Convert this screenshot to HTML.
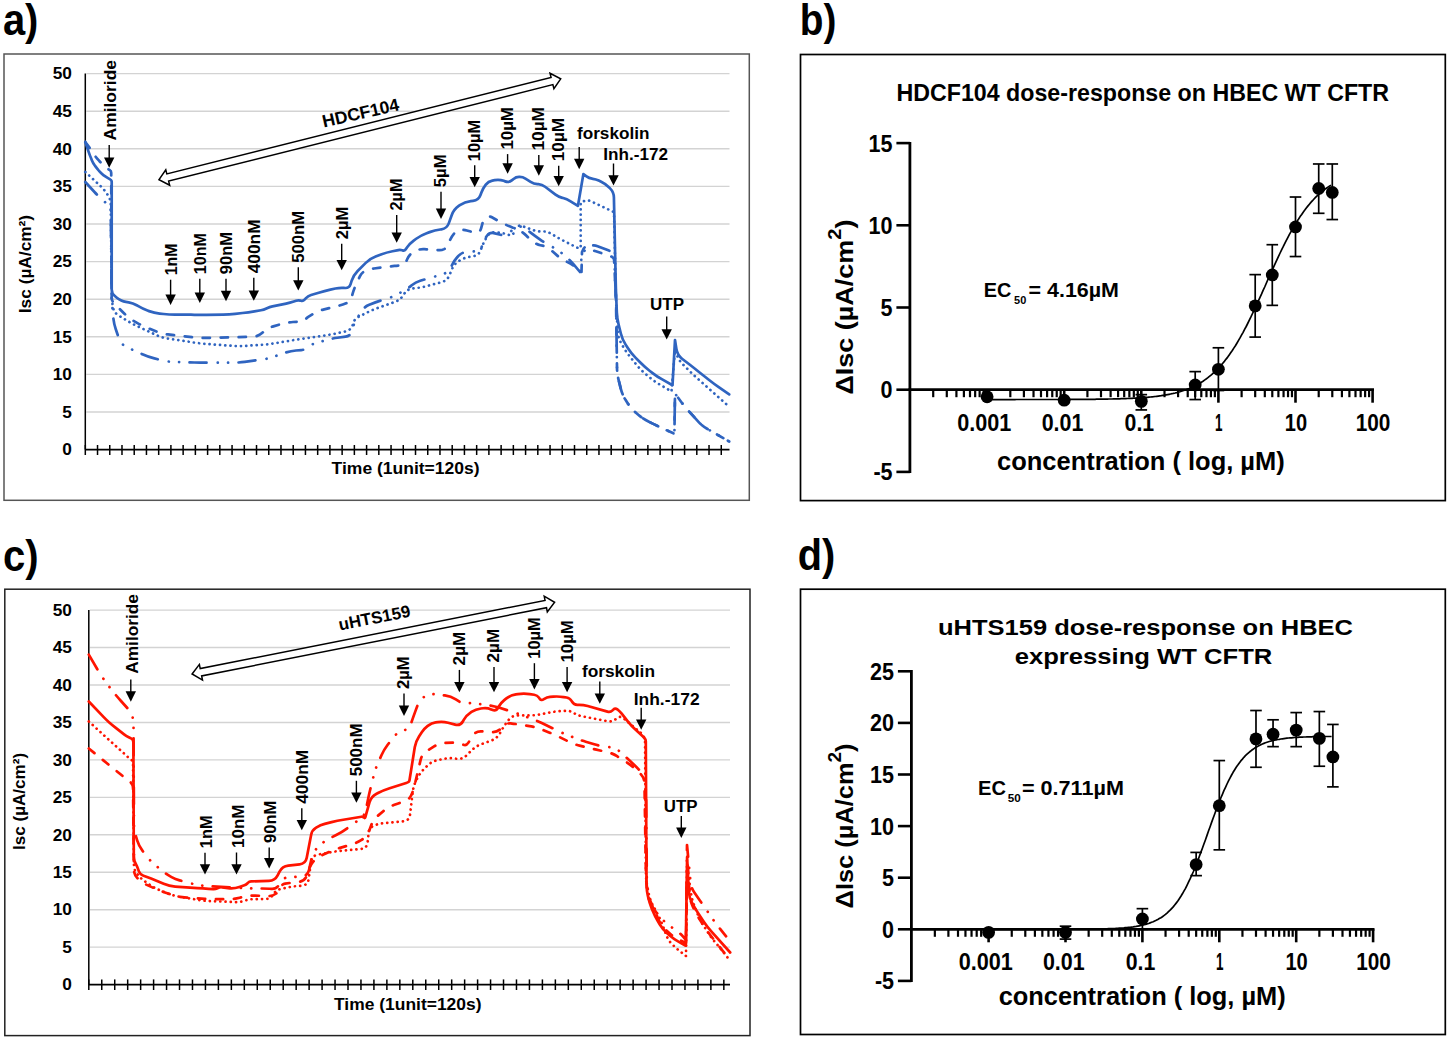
<!DOCTYPE html>
<html><head><meta charset="utf-8"><style>
html,body{margin:0;padding:0;background:#fff;}
svg{display:block;}
text{font-family:"Liberation Sans",sans-serif;font-weight:bold;}
</style></head><body>
<svg width="1450" height="1040" viewBox="0 0 1450 1040">
<rect x="0" y="0" width="1450" height="1040" fill="#fff"/>
<text x="2.90" y="35.00" font-size="43.50" fill="#000" textLength="35.48" lengthAdjust="spacingAndGlyphs">a)</text>
<text x="799.80" y="35.00" font-size="43.50" fill="#000" textLength="36.61" lengthAdjust="spacingAndGlyphs">b)</text>
<text x="2.90" y="571.00" font-size="43.50" fill="#000" textLength="35.58" lengthAdjust="spacingAndGlyphs">c)</text>
<text x="797.80" y="570.20" font-size="43.50" fill="#000" textLength="37.51" lengthAdjust="spacingAndGlyphs">d)</text>
<rect x="4.00" y="54.00" width="745.30" height="446.30" fill="none" stroke="#555" stroke-width="1.50"/>
<line x1="86.30" y1="412.00" x2="729.50" y2="412.00" stroke="#d3d3d3" stroke-width="1.40"/>
<line x1="86.30" y1="374.40" x2="729.50" y2="374.40" stroke="#d3d3d3" stroke-width="1.40"/>
<line x1="86.30" y1="336.80" x2="729.50" y2="336.80" stroke="#d3d3d3" stroke-width="1.40"/>
<line x1="86.30" y1="299.20" x2="729.50" y2="299.20" stroke="#d3d3d3" stroke-width="1.40"/>
<line x1="86.30" y1="261.60" x2="729.50" y2="261.60" stroke="#d3d3d3" stroke-width="1.40"/>
<line x1="86.30" y1="224.00" x2="729.50" y2="224.00" stroke="#d3d3d3" stroke-width="1.40"/>
<line x1="86.30" y1="186.40" x2="729.50" y2="186.40" stroke="#d3d3d3" stroke-width="1.40"/>
<line x1="86.30" y1="148.80" x2="729.50" y2="148.80" stroke="#d3d3d3" stroke-width="1.40"/>
<line x1="86.30" y1="111.20" x2="729.50" y2="111.20" stroke="#d3d3d3" stroke-width="1.40"/>
<line x1="86.30" y1="73.60" x2="729.50" y2="73.60" stroke="#d3d3d3" stroke-width="1.40"/>
<line x1="85.30" y1="73.60" x2="85.30" y2="449.60" stroke="#000" stroke-width="1.50"/>
<line x1="85.30" y1="449.60" x2="729.50" y2="449.60" stroke="#000" stroke-width="1.80"/>
<line x1="85.30" y1="445.00" x2="85.30" y2="455.00" stroke="#000" stroke-width="1.50"/>
<line x1="97.53" y1="445.00" x2="97.53" y2="455.00" stroke="#000" stroke-width="1.50"/>
<line x1="109.76" y1="445.00" x2="109.76" y2="455.00" stroke="#000" stroke-width="1.50"/>
<line x1="121.99" y1="445.00" x2="121.99" y2="455.00" stroke="#000" stroke-width="1.50"/>
<line x1="134.22" y1="445.00" x2="134.22" y2="455.00" stroke="#000" stroke-width="1.50"/>
<line x1="146.45" y1="445.00" x2="146.45" y2="455.00" stroke="#000" stroke-width="1.50"/>
<line x1="158.68" y1="445.00" x2="158.68" y2="455.00" stroke="#000" stroke-width="1.50"/>
<line x1="170.91" y1="445.00" x2="170.91" y2="455.00" stroke="#000" stroke-width="1.50"/>
<line x1="183.14" y1="445.00" x2="183.14" y2="455.00" stroke="#000" stroke-width="1.50"/>
<line x1="195.37" y1="445.00" x2="195.37" y2="455.00" stroke="#000" stroke-width="1.50"/>
<line x1="207.60" y1="445.00" x2="207.60" y2="455.00" stroke="#000" stroke-width="1.50"/>
<line x1="219.83" y1="445.00" x2="219.83" y2="455.00" stroke="#000" stroke-width="1.50"/>
<line x1="232.06" y1="445.00" x2="232.06" y2="455.00" stroke="#000" stroke-width="1.50"/>
<line x1="244.29" y1="445.00" x2="244.29" y2="455.00" stroke="#000" stroke-width="1.50"/>
<line x1="256.52" y1="445.00" x2="256.52" y2="455.00" stroke="#000" stroke-width="1.50"/>
<line x1="268.75" y1="445.00" x2="268.75" y2="455.00" stroke="#000" stroke-width="1.50"/>
<line x1="280.98" y1="445.00" x2="280.98" y2="455.00" stroke="#000" stroke-width="1.50"/>
<line x1="293.21" y1="445.00" x2="293.21" y2="455.00" stroke="#000" stroke-width="1.50"/>
<line x1="305.44" y1="445.00" x2="305.44" y2="455.00" stroke="#000" stroke-width="1.50"/>
<line x1="317.67" y1="445.00" x2="317.67" y2="455.00" stroke="#000" stroke-width="1.50"/>
<line x1="329.90" y1="445.00" x2="329.90" y2="455.00" stroke="#000" stroke-width="1.50"/>
<line x1="342.13" y1="445.00" x2="342.13" y2="455.00" stroke="#000" stroke-width="1.50"/>
<line x1="354.36" y1="445.00" x2="354.36" y2="455.00" stroke="#000" stroke-width="1.50"/>
<line x1="366.59" y1="445.00" x2="366.59" y2="455.00" stroke="#000" stroke-width="1.50"/>
<line x1="378.82" y1="445.00" x2="378.82" y2="455.00" stroke="#000" stroke-width="1.50"/>
<line x1="391.05" y1="445.00" x2="391.05" y2="455.00" stroke="#000" stroke-width="1.50"/>
<line x1="403.28" y1="445.00" x2="403.28" y2="455.00" stroke="#000" stroke-width="1.50"/>
<line x1="415.51" y1="445.00" x2="415.51" y2="455.00" stroke="#000" stroke-width="1.50"/>
<line x1="427.74" y1="445.00" x2="427.74" y2="455.00" stroke="#000" stroke-width="1.50"/>
<line x1="439.97" y1="445.00" x2="439.97" y2="455.00" stroke="#000" stroke-width="1.50"/>
<line x1="452.20" y1="445.00" x2="452.20" y2="455.00" stroke="#000" stroke-width="1.50"/>
<line x1="464.43" y1="445.00" x2="464.43" y2="455.00" stroke="#000" stroke-width="1.50"/>
<line x1="476.66" y1="445.00" x2="476.66" y2="455.00" stroke="#000" stroke-width="1.50"/>
<line x1="488.89" y1="445.00" x2="488.89" y2="455.00" stroke="#000" stroke-width="1.50"/>
<line x1="501.12" y1="445.00" x2="501.12" y2="455.00" stroke="#000" stroke-width="1.50"/>
<line x1="513.35" y1="445.00" x2="513.35" y2="455.00" stroke="#000" stroke-width="1.50"/>
<line x1="525.58" y1="445.00" x2="525.58" y2="455.00" stroke="#000" stroke-width="1.50"/>
<line x1="537.81" y1="445.00" x2="537.81" y2="455.00" stroke="#000" stroke-width="1.50"/>
<line x1="550.04" y1="445.00" x2="550.04" y2="455.00" stroke="#000" stroke-width="1.50"/>
<line x1="562.27" y1="445.00" x2="562.27" y2="455.00" stroke="#000" stroke-width="1.50"/>
<line x1="574.50" y1="445.00" x2="574.50" y2="455.00" stroke="#000" stroke-width="1.50"/>
<line x1="586.73" y1="445.00" x2="586.73" y2="455.00" stroke="#000" stroke-width="1.50"/>
<line x1="598.96" y1="445.00" x2="598.96" y2="455.00" stroke="#000" stroke-width="1.50"/>
<line x1="611.19" y1="445.00" x2="611.19" y2="455.00" stroke="#000" stroke-width="1.50"/>
<line x1="623.42" y1="445.00" x2="623.42" y2="455.00" stroke="#000" stroke-width="1.50"/>
<line x1="635.65" y1="445.00" x2="635.65" y2="455.00" stroke="#000" stroke-width="1.50"/>
<line x1="647.88" y1="445.00" x2="647.88" y2="455.00" stroke="#000" stroke-width="1.50"/>
<line x1="660.11" y1="445.00" x2="660.11" y2="455.00" stroke="#000" stroke-width="1.50"/>
<line x1="672.34" y1="445.00" x2="672.34" y2="455.00" stroke="#000" stroke-width="1.50"/>
<line x1="684.57" y1="445.00" x2="684.57" y2="455.00" stroke="#000" stroke-width="1.50"/>
<line x1="696.80" y1="445.00" x2="696.80" y2="455.00" stroke="#000" stroke-width="1.50"/>
<line x1="709.03" y1="445.00" x2="709.03" y2="455.00" stroke="#000" stroke-width="1.50"/>
<line x1="721.26" y1="445.00" x2="721.26" y2="455.00" stroke="#000" stroke-width="1.50"/>
<text x="62.39" y="455.30" font-size="16.00" fill="#000" textLength="9.61" lengthAdjust="spacingAndGlyphs">0</text>
<text x="62.39" y="417.70" font-size="16.00" fill="#000" textLength="9.61" lengthAdjust="spacingAndGlyphs">5</text>
<text x="52.78" y="380.10" font-size="16.00" fill="#000" textLength="19.22" lengthAdjust="spacingAndGlyphs">10</text>
<text x="52.78" y="342.50" font-size="16.00" fill="#000" textLength="19.22" lengthAdjust="spacingAndGlyphs">15</text>
<text x="52.78" y="304.90" font-size="16.00" fill="#000" textLength="19.22" lengthAdjust="spacingAndGlyphs">20</text>
<text x="52.78" y="267.30" font-size="16.00" fill="#000" textLength="19.22" lengthAdjust="spacingAndGlyphs">25</text>
<text x="52.78" y="229.70" font-size="16.00" fill="#000" textLength="19.22" lengthAdjust="spacingAndGlyphs">30</text>
<text x="52.78" y="192.10" font-size="16.00" fill="#000" textLength="19.22" lengthAdjust="spacingAndGlyphs">35</text>
<text x="52.78" y="154.50" font-size="16.00" fill="#000" textLength="19.22" lengthAdjust="spacingAndGlyphs">40</text>
<text x="52.78" y="116.90" font-size="16.00" fill="#000" textLength="19.22" lengthAdjust="spacingAndGlyphs">45</text>
<text x="52.78" y="79.30" font-size="16.00" fill="#000" textLength="19.22" lengthAdjust="spacingAndGlyphs">50</text>
<text transform="translate(31.00,313.20) rotate(-90)" x="-0.00" y="0" font-size="16.00" textLength="98.32" lengthAdjust="spacingAndGlyphs">Isc (µA/cm²)</text>
<text x="331.60" y="473.70" font-size="16.00" fill="#000" textLength="148.01" lengthAdjust="spacingAndGlyphs">Time (1unit=120s)</text>
<path d="M159.00,179.70 L165.78,169.75 L166.82,173.87 L551.06,77.36 L550.02,73.23 L560.70,78.80 L553.92,88.75 L552.88,84.63 L168.64,181.14 L169.68,185.27 Z" fill="#fff" stroke="#000" stroke-width="1.50" stroke-linejoin="miter"/>
<text transform="translate(362.0,118.8) rotate(-12.8)" x="0" y="0" font-size="17.6" text-anchor="middle">HDCF104</text>
<text transform="translate(116.11,140.40) rotate(-90)" x="-0.00" y="0" font-size="16.50" textLength="80.40" lengthAdjust="spacingAndGlyphs">Amiloride</text>
<line x1="109.20" y1="145.00" x2="109.20" y2="158.40" stroke="#000" stroke-width="1.40"/>
<path d="M104.00,157.40 L114.40,157.40 L109.20,167.80 Z" fill="#000"/>
<text transform="translate(176.51,275.20) rotate(-90)" x="-0.00" y="0" font-size="16.50" textLength="31.70" lengthAdjust="spacingAndGlyphs">1nM</text>
<line x1="170.60" y1="279.70" x2="170.60" y2="295.60" stroke="#000" stroke-width="1.40"/>
<path d="M165.40,294.60 L175.80,294.60 L170.60,305.00 Z" fill="#000"/>
<text transform="translate(205.71,274.20) rotate(-90)" x="-0.00" y="0" font-size="16.50" textLength="41.28" lengthAdjust="spacingAndGlyphs">10nM</text>
<line x1="199.80" y1="278.70" x2="199.80" y2="293.60" stroke="#000" stroke-width="1.40"/>
<path d="M194.60,292.60 L205.00,292.60 L199.80,303.00 Z" fill="#000"/>
<text transform="translate(231.91,274.20) rotate(-90)" x="-0.00" y="0" font-size="16.50" textLength="42.18" lengthAdjust="spacingAndGlyphs">90nM</text>
<line x1="226.00" y1="278.70" x2="226.00" y2="291.80" stroke="#000" stroke-width="1.40"/>
<path d="M220.80,290.80 L231.20,290.80 L226.00,301.20 Z" fill="#000"/>
<text transform="translate(259.71,273.30) rotate(-90)" x="-0.00" y="0" font-size="16.50" textLength="53.90" lengthAdjust="spacingAndGlyphs">400nM</text>
<line x1="253.80" y1="277.80" x2="253.80" y2="291.40" stroke="#000" stroke-width="1.40"/>
<path d="M248.60,290.40 L259.00,290.40 L253.80,300.80 Z" fill="#000"/>
<text transform="translate(304.21,262.70) rotate(-90)" x="-0.00" y="0" font-size="16.50" textLength="51.90" lengthAdjust="spacingAndGlyphs">500nM</text>
<line x1="298.30" y1="267.20" x2="298.30" y2="281.20" stroke="#000" stroke-width="1.40"/>
<path d="M293.10,280.20 L303.50,280.20 L298.30,290.60 Z" fill="#000"/>
<text transform="translate(347.97,239.30) rotate(-90)" x="-0.00" y="0" font-size="16.50" textLength="32.48" lengthAdjust="spacingAndGlyphs">2µM</text>
<line x1="341.70" y1="243.80" x2="341.70" y2="260.90" stroke="#000" stroke-width="1.40"/>
<path d="M336.50,259.90 L346.90,259.90 L341.70,270.30 Z" fill="#000"/>
<text transform="translate(402.17,210.40) rotate(-90)" x="-0.00" y="0" font-size="16.50" textLength="31.78" lengthAdjust="spacingAndGlyphs">2µM</text>
<line x1="396.70" y1="214.90" x2="396.70" y2="233.40" stroke="#000" stroke-width="1.40"/>
<path d="M391.50,232.40 L401.90,232.40 L396.70,242.80 Z" fill="#000"/>
<text transform="translate(446.47,187.30) rotate(-90)" x="-0.00" y="0" font-size="16.50" textLength="32.88" lengthAdjust="spacingAndGlyphs">5µM</text>
<line x1="441.00" y1="191.80" x2="441.00" y2="209.60" stroke="#000" stroke-width="1.40"/>
<path d="M435.80,208.60 L446.20,208.60 L441.00,219.00 Z" fill="#000"/>
<text transform="translate(480.17,161.20) rotate(-90)" x="-0.00" y="0" font-size="16.50" textLength="41.50" lengthAdjust="spacingAndGlyphs">10µM</text>
<line x1="474.70" y1="165.20" x2="474.70" y2="177.90" stroke="#000" stroke-width="1.40"/>
<path d="M469.50,176.90 L479.90,176.90 L474.70,187.30 Z" fill="#000"/>
<text transform="translate(513.07,149.60) rotate(-90)" x="-0.00" y="0" font-size="16.50" textLength="42.50" lengthAdjust="spacingAndGlyphs">10µM</text>
<line x1="507.60" y1="154.10" x2="507.60" y2="164.30" stroke="#000" stroke-width="1.40"/>
<path d="M502.40,163.30 L512.80,163.30 L507.60,173.70 Z" fill="#000"/>
<text transform="translate(544.27,150.60) rotate(-90)" x="-0.00" y="0" font-size="16.50" textLength="43.60" lengthAdjust="spacingAndGlyphs">10µM</text>
<line x1="538.80" y1="155.10" x2="538.80" y2="166.30" stroke="#000" stroke-width="1.40"/>
<path d="M533.60,165.30 L544.00,165.30 L538.80,175.70 Z" fill="#000"/>
<text transform="translate(564.17,161.20) rotate(-90)" x="-0.00" y="0" font-size="16.50" textLength="43.40" lengthAdjust="spacingAndGlyphs">10µM</text>
<line x1="558.70" y1="165.70" x2="558.70" y2="176.90" stroke="#000" stroke-width="1.40"/>
<path d="M553.50,175.90 L563.90,175.90 L558.70,186.30 Z" fill="#000"/>
<text x="577.00" y="138.50" font-size="16.00" fill="#000" textLength="72.41" lengthAdjust="spacingAndGlyphs">forskolin</text>
<line x1="579.20" y1="147.00" x2="579.20" y2="159.80" stroke="#000" stroke-width="1.40"/>
<path d="M574.00,158.80 L584.40,158.80 L579.20,169.20 Z" fill="#000"/>
<text x="603.30" y="160.00" font-size="16.00" fill="#000" textLength="64.71" lengthAdjust="spacingAndGlyphs">Inh.-172</text>
<line x1="613.50" y1="163.50" x2="613.50" y2="176.20" stroke="#000" stroke-width="1.40"/>
<path d="M608.30,175.20 L618.70,175.20 L613.50,185.60 Z" fill="#000"/>
<text x="650.00" y="310.40" font-size="16.00" fill="#000" textLength="34.00" lengthAdjust="spacingAndGlyphs">UTP</text>
<line x1="666.70" y1="316.50" x2="666.70" y2="330.20" stroke="#000" stroke-width="1.40"/>
<path d="M661.50,329.20 L671.90,329.20 L666.70,339.60 Z" fill="#000"/>
<path d="M85.30,182.00 L94.72,192.24 Q98.00,195.80 101.60,199.04 L103.94,201.14 Q106.00,203.00 108.11,204.80 L108.59,205.20 Q110.70,207.00 110.73,209.78 L111.64,294.00 Q111.70,300.00 112.24,305.98 L113.26,317.32 Q113.80,323.30 115.71,328.99 L119.19,339.30 Q120.60,343.50 124.47,345.66 L125.33,346.14 Q129.20,348.30 133.24,350.12 L143.03,354.53 Q148.50,357.00 154.33,358.43 L161.87,360.27 Q167.70,361.70 173.70,361.88 L194.40,362.52 Q200.40,362.70 206.40,362.70 L232.80,362.70 Q238.80,362.70 244.75,361.90 L261.75,359.60 Q267.70,358.80 273.36,356.82 L284.34,352.98 Q290.00,351.00 295.98,350.49 L301.22,350.04 Q305.20,349.70 308.31,347.18 L309.00,346.62 Q312.10,344.10 315.95,343.00 L325.63,340.24 Q331.40,338.60 337.34,337.77 L345.61,336.61 Q350.70,335.90 351.91,330.90 L352.22,329.66 Q353.40,324.80 355.92,320.48 L356.74,319.07 Q359.00,315.20 361.48,311.46 L362.02,310.63 Q364.50,306.90 368.61,305.11 L370.55,304.26 Q375.50,302.10 380.68,300.56 L386.25,298.91 Q392.00,297.20 397.28,294.35 L402.93,291.31 Q407.20,289.00 410.94,285.89 L411.76,285.21 Q415.50,282.10 420.17,280.77 L429.03,278.24 Q434.80,276.60 440.54,274.85 L443.03,274.09 Q448.60,272.40 451.08,267.13 L452.13,264.88 Q454.10,260.70 457.21,257.28 L458.41,255.95 Q461.00,253.10 464.74,252.16 L465.56,251.94 Q469.30,251.00 473.14,251.36 L475.19,251.55 Q480.00,252.00 481.53,247.41 L482.75,243.76 Q484.10,239.70 486.62,236.23 L487.18,235.47 Q489.70,232.00 493.85,233.08 L499.42,234.54 Q505.00,236.00 509.50,232.40 L512.44,230.05 Q515.00,228.00 518.15,227.10 L518.85,226.90 Q522.00,226.00 524.60,228.00 L530.65,232.65 Q535.00,236.00 539.50,239.15 L540.50,239.85 Q545.00,243.00 549.84,245.60 L552.72,247.16 Q558.00,250.00 562.61,253.84 L565.39,256.16 Q570.00,260.00 573.84,264.61 L580.00,272.00 L582.00,253.00 L587.54,248.01 Q592.00,244.00 597.59,246.17 L608.27,250.33 Q610.00,251.00 611.80,251.45 L612.20,251.55 Q614.00,252.00 614.08,253.85 L615.75,294.01 Q616.00,300.00 616.09,306.00 L617.01,367.90 Q617.10,373.90 618.56,379.72 L620.84,388.88 Q622.30,394.70 625.50,399.78 L627.80,403.42 Q631.00,408.50 635.55,412.41 L638.55,414.99 Q643.10,418.90 648.47,421.57 L651.63,423.13 Q657.00,425.80 662.45,428.31 L674.40,433.80 L675.00,393.50 L681.43,402.18 Q685.00,407.00 689.04,411.44 L698.26,421.56 Q702.30,426.00 707.50,429.00 L729.20,441.50" fill="none" stroke="#2f64c0" stroke-width="2.70" stroke-linejoin="round" stroke-linecap="round" stroke-dasharray="17,11.2,0.1,10.2,0.1,10.4"/>
<path d="M85.30,172.00 L97.81,183.52 Q100.50,186.00 102.97,188.70 L103.53,189.30 Q106.00,192.00 107.86,195.16 L108.59,196.40 Q110.70,200.00 110.74,204.18 L111.64,293.00 Q111.70,299.00 112.61,304.93 L112.89,306.77 Q113.80,312.70 118.95,315.78 L127.85,321.12 Q133.00,324.20 138.44,326.73 L156.56,335.17 Q162.00,337.70 167.93,338.60 L194.47,342.60 Q200.40,343.50 206.38,343.94 L232.82,345.86 Q238.80,346.30 244.79,345.91 L261.71,344.79 Q267.70,344.40 273.62,343.42 L284.08,341.68 Q290.00,340.70 295.93,339.80 L297.87,339.50 Q303.80,338.60 309.73,337.72 L325.47,335.38 Q331.40,334.50 337.26,333.22 L345.54,331.42 Q350.70,330.30 352.55,325.35 L354.02,321.41 Q354.80,319.30 356.69,318.09 L357.11,317.81 Q359.00,316.60 361.01,315.60 L367.43,312.38 Q372.80,309.70 378.46,307.70 L394.79,301.94 Q400.30,300.00 403.40,295.05 L404.10,293.95 Q407.20,289.00 413.01,288.41 L415.03,288.21 Q421.00,287.60 426.80,286.07 L441.40,282.23 Q447.20,280.70 449.50,275.16 L452.11,268.88 Q454.10,264.10 458.47,261.31 L459.44,260.69 Q463.80,257.90 468.90,256.99 L473.47,256.18 Q479.00,255.20 480.85,249.89 L481.25,248.71 Q483.10,243.40 485.92,238.54 L486.92,236.80 Q489.70,232.00 495.24,232.36 L496.79,232.46 Q502.00,232.80 507.00,234.33 L509.18,235.00 Q513.10,236.20 513.73,232.15 L514.10,229.80 Q514.50,227.20 516.98,226.30 L517.52,226.10 Q520.00,225.20 522.47,226.12 L531.96,229.67 Q536.60,231.40 541.55,231.40 L542.65,231.40 Q547.60,231.40 551.79,234.03 L553.65,235.20 Q558.60,238.30 563.82,240.92 L576.77,247.43 Q577.90,248.00 579.16,248.00 L580.70,248.00 L580.70,202.40 L584.50,200.91 Q587.60,199.70 590.62,201.12 L611.70,211.07 Q612.40,211.40 613.12,211.67 L613.28,211.73 Q614.00,212.00 614.02,212.77 L615.86,294.00 Q616.00,300.00 616.32,305.99 L617.68,331.51 Q618.00,337.50 620.94,342.73 L622.86,346.17 Q625.80,351.40 629.54,356.09 L635.86,364.01 Q639.60,368.70 644.13,372.64 L648.97,376.86 Q653.50,380.80 658.66,383.87 L671.50,391.50 L675.00,350.00 L677.31,355.94 Q679.20,360.80 682.91,364.46 L690.33,371.79 Q694.60,376.00 699.09,379.98 L727.30,405.00" fill="none" stroke="#2f64c0" stroke-width="2.70" stroke-linejoin="round" stroke-linecap="round" stroke-dasharray="0.1,5.15"/>
<path d="M85.30,142.00 L88.16,145.85 Q90.50,149.00 92.65,152.28 L94.12,154.53 Q96.20,157.70 98.81,160.44 L99.54,161.21 Q102.00,163.80 104.70,166.14 L106.72,167.89 Q108.00,169.00 109.44,169.90 L109.76,170.10 Q111.20,171.00 111.21,172.70 L111.69,298.35 Q111.70,300.00 112.64,301.35 L112.86,301.65 Q113.80,303.00 114.96,304.17 L124.97,314.24 Q129.20,318.50 134.44,321.41 L137.46,323.09 Q142.70,326.00 148.26,328.25 L156.44,331.55 Q162.00,333.80 167.96,334.45 L194.44,337.35 Q200.40,338.00 206.40,337.86 L252.14,336.83 Q258.00,336.70 262.37,332.78 L263.33,331.92 Q267.70,328.00 273.32,326.34 L281.25,324.00 Q287.00,322.30 292.99,321.98 L301.82,321.51 Q303.80,321.40 305.06,319.87 L305.34,319.53 Q306.60,318.00 308.27,316.94 L312.65,314.15 Q317.60,311.00 323.29,309.58 L338.48,305.78 Q342.40,304.80 346.13,303.27 L346.96,302.93 Q350.70,301.40 351.65,297.48 L352.19,295.30 Q353.40,290.30 355.56,285.64 L360.00,276.06 Q361.70,272.40 365.44,270.87 L366.26,270.53 Q370.00,269.00 374.00,268.49 L394.52,265.89 Q397.60,265.50 400.71,265.50 L401.39,265.50 Q404.50,265.50 405.72,262.64 L407.30,258.95 Q408.60,255.90 411.08,253.69 L411.69,253.15 Q414.10,251.00 417.21,250.10 L417.89,249.90 Q421.00,249.00 424.23,249.20 L438.95,250.13 Q441.70,250.30 444.18,249.09 L444.72,248.81 Q447.20,247.60 448.18,245.02 L450.06,240.12 Q451.40,236.60 453.88,233.77 L454.85,232.65 Q456.90,230.30 460.00,230.03 L460.69,229.97 Q463.80,229.70 466.81,230.52 L473.81,232.42 Q479.60,234.00 481.17,228.21 L482.69,222.58 Q483.50,219.60 486.06,217.89 L486.63,217.51 Q489.20,215.80 491.89,217.30 L499.36,221.47 Q504.60,224.40 510.19,226.58 L516.41,229.02 Q522.00,231.20 526.22,235.46 L529.31,238.58 Q531.50,240.80 534.11,242.51 L534.69,242.89 Q537.30,244.60 540.36,245.21 L542.58,245.65 Q546.90,246.50 550.21,249.40 L558.97,257.08 Q562.30,260.00 566.44,261.57 L567.36,261.93 Q571.50,263.50 574.63,266.63 L580.00,272.00 L581.50,272.00 L582.00,252.00 L583.65,248.70 Q585.00,246.00 587.59,247.55 L588.69,248.20 Q591.70,250.00 595.05,251.06 L608.04,255.18 Q610.00,255.80 611.80,256.79 L612.20,257.01 Q614.00,258.00 614.10,260.05 L615.71,294.01 Q616.00,300.00 616.09,306.00 L617.01,367.90 Q617.10,373.90 618.56,379.72 L620.84,388.88 Q622.30,394.70 625.50,399.78 L627.80,403.42 Q631.00,408.50 635.55,412.41 L638.55,414.99 Q643.10,418.90 648.47,421.57 L651.63,423.13 Q657.00,425.80 662.45,428.31 L674.40,433.80 L675.00,393.50 L681.43,402.18 Q685.00,407.00 689.04,411.44 L698.26,421.56 Q702.30,426.00 707.50,429.00 L729.20,441.50" fill="none" stroke="#2f64c0" stroke-width="2.70" stroke-linejoin="round" stroke-linecap="round" stroke-dasharray="7.3,10.7"/>
<path d="M85.30,142.00 L88.45,151.31 Q89.70,155.00 91.19,158.60 L91.83,160.17 Q93.00,163.00 94.80,165.47 L95.27,166.12 Q97.00,168.50 98.89,170.75 L99.48,171.45 Q101.20,173.50 103.36,175.07 L104.13,175.64 Q106.00,177.00 108.03,178.12 L109.74,179.08 Q110.50,179.50 111.04,180.18 L111.16,180.32 Q111.70,181.00 111.70,181.86 L111.70,289.44 Q111.70,293.50 114.85,296.06 L116.84,297.69 Q118.70,299.20 120.86,300.24 L121.34,300.46 Q123.50,301.50 125.87,301.87 L128.72,302.32 Q133.00,303.00 136.71,305.22 L138.33,306.19 Q142.70,308.80 147.48,310.54 L149.02,311.11 Q154.20,313.00 159.68,313.57 L163.63,313.98 Q169.60,314.60 175.60,314.56 L179.00,314.54 Q185.00,314.50 191.00,314.69 L194.40,314.81 Q200.40,315.00 206.40,314.92 L223.20,314.68 Q229.20,314.60 235.16,313.89 L242.54,313.01 Q248.50,312.30 254.42,311.33 L260.94,310.27 Q263.80,309.80 266.41,308.54 L266.99,308.26 Q269.60,307.00 272.44,306.42 L286.14,303.59 Q290.00,302.80 293.74,301.54 L296.17,300.72 Q298.30,300.00 300.46,300.63 L300.94,300.77 Q303.10,301.40 304.58,299.70 L305.74,298.38 Q307.90,295.90 311.05,294.97 L318.75,292.70 Q324.50,291.00 330.36,289.69 L335.47,288.55 Q339.70,287.60 344.02,287.92 L344.98,287.99 Q349.30,288.30 350.59,284.17 L351.61,280.93 Q353.40,275.20 357.64,270.96 L365.76,262.84 Q370.00,258.60 375.62,256.50 L380.98,254.50 Q386.60,252.40 392.49,251.24 L398.36,250.08 Q400.30,249.70 402.19,250.28 L402.61,250.41 Q404.50,251.00 405.66,249.40 L407.52,246.82 Q410.00,243.40 413.38,240.88 L416.19,238.79 Q421.00,235.20 426.65,233.19 L429.62,232.14 Q434.80,230.30 440.25,229.53 L441.45,229.37 Q446.90,228.60 448.75,223.42 L451.78,214.95 Q453.80,209.30 458.74,205.89 L459.86,205.11 Q464.80,201.70 470.77,201.09 L473.03,200.86 Q478.60,200.30 480.49,195.03 L481.42,192.44 Q482.80,188.60 485.28,185.36 L485.82,184.64 Q488.30,181.40 492.30,180.60 L494.73,180.11 Q499.30,179.20 503.67,180.82 L505.17,181.38 Q509.00,182.80 512.11,180.15 L513.54,178.92 Q515.90,176.90 519.00,176.90 L519.69,176.90 Q522.80,176.90 525.43,178.55 L530.62,181.81 Q533.80,183.80 537.53,184.12 L538.37,184.19 Q542.10,184.50 545.10,186.75 L555.52,194.59 Q558.60,196.90 562.34,197.84 L563.16,198.06 Q566.90,199.00 570.16,201.05 L577.90,205.90 L583.40,174.10 L586.49,176.42 Q589.00,178.30 592.11,178.71 L592.79,178.79 Q595.90,179.20 598.72,180.55 L601.18,181.73 Q605.50,183.80 608.89,187.19 L610.06,188.37 Q613.80,192.10 613.91,197.38 L615.77,284.00 Q615.90,290.00 616.15,295.99 L616.85,312.51 Q617.10,318.50 618.56,324.32 L620.84,333.48 Q622.30,339.30 625.50,344.38 L627.80,348.02 Q631.00,353.10 635.23,357.36 L640.57,362.74 Q644.80,367.00 649.53,370.69 L652.27,372.81 Q657.00,376.50 662.23,379.44 L672.50,385.20 L675.00,340.00 L676.39,349.07 Q677.30,355.00 682.03,358.69 L689.87,364.81 Q694.60,368.50 699.29,372.24 L709.11,380.06 Q713.80,383.80 718.74,387.20 L729.20,394.40" fill="none" stroke="#2f64c0" stroke-width="2.70" stroke-linejoin="round" stroke-linecap="round"/>
<rect x="4.80" y="589.20" width="745.20" height="446.40" fill="none" stroke="#222" stroke-width="1.50"/>
<line x1="89.80" y1="947.15" x2="730.00" y2="947.15" stroke="#d3d3d3" stroke-width="1.40"/>
<line x1="89.80" y1="909.70" x2="730.00" y2="909.70" stroke="#d3d3d3" stroke-width="1.40"/>
<line x1="89.80" y1="872.25" x2="730.00" y2="872.25" stroke="#d3d3d3" stroke-width="1.40"/>
<line x1="89.80" y1="834.80" x2="730.00" y2="834.80" stroke="#d3d3d3" stroke-width="1.40"/>
<line x1="89.80" y1="797.35" x2="730.00" y2="797.35" stroke="#d3d3d3" stroke-width="1.40"/>
<line x1="89.80" y1="759.90" x2="730.00" y2="759.90" stroke="#d3d3d3" stroke-width="1.40"/>
<line x1="89.80" y1="722.45" x2="730.00" y2="722.45" stroke="#d3d3d3" stroke-width="1.40"/>
<line x1="89.80" y1="685.00" x2="730.00" y2="685.00" stroke="#d3d3d3" stroke-width="1.40"/>
<line x1="89.80" y1="647.55" x2="730.00" y2="647.55" stroke="#d3d3d3" stroke-width="1.40"/>
<line x1="89.80" y1="610.10" x2="730.00" y2="610.10" stroke="#d3d3d3" stroke-width="1.40"/>
<line x1="88.80" y1="610.10" x2="88.80" y2="984.60" stroke="#000" stroke-width="1.50"/>
<line x1="88.80" y1="984.60" x2="730.00" y2="984.60" stroke="#000" stroke-width="1.80"/>
<line x1="88.80" y1="979.40" x2="88.80" y2="990.00" stroke="#000" stroke-width="1.50"/>
<line x1="101.76" y1="979.40" x2="101.76" y2="990.00" stroke="#000" stroke-width="1.50"/>
<line x1="114.72" y1="979.40" x2="114.72" y2="990.00" stroke="#000" stroke-width="1.50"/>
<line x1="127.68" y1="979.40" x2="127.68" y2="990.00" stroke="#000" stroke-width="1.50"/>
<line x1="140.64" y1="979.40" x2="140.64" y2="990.00" stroke="#000" stroke-width="1.50"/>
<line x1="153.60" y1="979.40" x2="153.60" y2="990.00" stroke="#000" stroke-width="1.50"/>
<line x1="166.56" y1="979.40" x2="166.56" y2="990.00" stroke="#000" stroke-width="1.50"/>
<line x1="179.52" y1="979.40" x2="179.52" y2="990.00" stroke="#000" stroke-width="1.50"/>
<line x1="192.48" y1="979.40" x2="192.48" y2="990.00" stroke="#000" stroke-width="1.50"/>
<line x1="205.44" y1="979.40" x2="205.44" y2="990.00" stroke="#000" stroke-width="1.50"/>
<line x1="218.40" y1="979.40" x2="218.40" y2="990.00" stroke="#000" stroke-width="1.50"/>
<line x1="231.36" y1="979.40" x2="231.36" y2="990.00" stroke="#000" stroke-width="1.50"/>
<line x1="244.32" y1="979.40" x2="244.32" y2="990.00" stroke="#000" stroke-width="1.50"/>
<line x1="257.28" y1="979.40" x2="257.28" y2="990.00" stroke="#000" stroke-width="1.50"/>
<line x1="270.24" y1="979.40" x2="270.24" y2="990.00" stroke="#000" stroke-width="1.50"/>
<line x1="283.20" y1="979.40" x2="283.20" y2="990.00" stroke="#000" stroke-width="1.50"/>
<line x1="296.16" y1="979.40" x2="296.16" y2="990.00" stroke="#000" stroke-width="1.50"/>
<line x1="309.12" y1="979.40" x2="309.12" y2="990.00" stroke="#000" stroke-width="1.50"/>
<line x1="322.08" y1="979.40" x2="322.08" y2="990.00" stroke="#000" stroke-width="1.50"/>
<line x1="335.04" y1="979.40" x2="335.04" y2="990.00" stroke="#000" stroke-width="1.50"/>
<line x1="348.00" y1="979.40" x2="348.00" y2="990.00" stroke="#000" stroke-width="1.50"/>
<line x1="360.96" y1="979.40" x2="360.96" y2="990.00" stroke="#000" stroke-width="1.50"/>
<line x1="373.92" y1="979.40" x2="373.92" y2="990.00" stroke="#000" stroke-width="1.50"/>
<line x1="386.88" y1="979.40" x2="386.88" y2="990.00" stroke="#000" stroke-width="1.50"/>
<line x1="399.84" y1="979.40" x2="399.84" y2="990.00" stroke="#000" stroke-width="1.50"/>
<line x1="412.80" y1="979.40" x2="412.80" y2="990.00" stroke="#000" stroke-width="1.50"/>
<line x1="425.76" y1="979.40" x2="425.76" y2="990.00" stroke="#000" stroke-width="1.50"/>
<line x1="438.72" y1="979.40" x2="438.72" y2="990.00" stroke="#000" stroke-width="1.50"/>
<line x1="451.68" y1="979.40" x2="451.68" y2="990.00" stroke="#000" stroke-width="1.50"/>
<line x1="464.64" y1="979.40" x2="464.64" y2="990.00" stroke="#000" stroke-width="1.50"/>
<line x1="477.60" y1="979.40" x2="477.60" y2="990.00" stroke="#000" stroke-width="1.50"/>
<line x1="490.56" y1="979.40" x2="490.56" y2="990.00" stroke="#000" stroke-width="1.50"/>
<line x1="503.52" y1="979.40" x2="503.52" y2="990.00" stroke="#000" stroke-width="1.50"/>
<line x1="516.48" y1="979.40" x2="516.48" y2="990.00" stroke="#000" stroke-width="1.50"/>
<line x1="529.44" y1="979.40" x2="529.44" y2="990.00" stroke="#000" stroke-width="1.50"/>
<line x1="542.40" y1="979.40" x2="542.40" y2="990.00" stroke="#000" stroke-width="1.50"/>
<line x1="555.36" y1="979.40" x2="555.36" y2="990.00" stroke="#000" stroke-width="1.50"/>
<line x1="568.32" y1="979.40" x2="568.32" y2="990.00" stroke="#000" stroke-width="1.50"/>
<line x1="581.28" y1="979.40" x2="581.28" y2="990.00" stroke="#000" stroke-width="1.50"/>
<line x1="594.24" y1="979.40" x2="594.24" y2="990.00" stroke="#000" stroke-width="1.50"/>
<line x1="607.20" y1="979.40" x2="607.20" y2="990.00" stroke="#000" stroke-width="1.50"/>
<line x1="620.16" y1="979.40" x2="620.16" y2="990.00" stroke="#000" stroke-width="1.50"/>
<line x1="633.12" y1="979.40" x2="633.12" y2="990.00" stroke="#000" stroke-width="1.50"/>
<line x1="646.08" y1="979.40" x2="646.08" y2="990.00" stroke="#000" stroke-width="1.50"/>
<line x1="659.04" y1="979.40" x2="659.04" y2="990.00" stroke="#000" stroke-width="1.50"/>
<line x1="672.00" y1="979.40" x2="672.00" y2="990.00" stroke="#000" stroke-width="1.50"/>
<line x1="684.96" y1="979.40" x2="684.96" y2="990.00" stroke="#000" stroke-width="1.50"/>
<line x1="697.92" y1="979.40" x2="697.92" y2="990.00" stroke="#000" stroke-width="1.50"/>
<line x1="710.88" y1="979.40" x2="710.88" y2="990.00" stroke="#000" stroke-width="1.50"/>
<line x1="723.84" y1="979.40" x2="723.84" y2="990.00" stroke="#000" stroke-width="1.50"/>
<text x="62.39" y="990.30" font-size="16.00" fill="#000" textLength="9.61" lengthAdjust="spacingAndGlyphs">0</text>
<text x="62.39" y="952.85" font-size="16.00" fill="#000" textLength="9.61" lengthAdjust="spacingAndGlyphs">5</text>
<text x="52.78" y="915.40" font-size="16.00" fill="#000" textLength="19.22" lengthAdjust="spacingAndGlyphs">10</text>
<text x="52.78" y="877.95" font-size="16.00" fill="#000" textLength="19.22" lengthAdjust="spacingAndGlyphs">15</text>
<text x="52.78" y="840.50" font-size="16.00" fill="#000" textLength="19.22" lengthAdjust="spacingAndGlyphs">20</text>
<text x="52.78" y="803.05" font-size="16.00" fill="#000" textLength="19.22" lengthAdjust="spacingAndGlyphs">25</text>
<text x="52.78" y="765.60" font-size="16.00" fill="#000" textLength="19.22" lengthAdjust="spacingAndGlyphs">30</text>
<text x="52.78" y="728.15" font-size="16.00" fill="#000" textLength="19.22" lengthAdjust="spacingAndGlyphs">35</text>
<text x="52.78" y="690.70" font-size="16.00" fill="#000" textLength="19.22" lengthAdjust="spacingAndGlyphs">40</text>
<text x="52.78" y="653.25" font-size="16.00" fill="#000" textLength="19.22" lengthAdjust="spacingAndGlyphs">45</text>
<text x="52.78" y="615.80" font-size="16.00" fill="#000" textLength="19.22" lengthAdjust="spacingAndGlyphs">50</text>
<text transform="translate(25.00,849.90) rotate(-90)" x="-0.00" y="0" font-size="16.00" textLength="97.02" lengthAdjust="spacingAndGlyphs">Isc (µA/cm²)</text>
<text x="334.00" y="1009.80" font-size="16.50" fill="#000" textLength="147.49" lengthAdjust="spacingAndGlyphs">Time (1unit=120s)</text>
<path d="M192.10,674.00 L199.38,664.41 L200.20,668.57 L545.04,600.37 L544.22,596.20 L554.60,602.30 L547.32,611.89 L546.50,607.73 L201.66,675.93 L202.48,680.10 Z" fill="#fff" stroke="#000" stroke-width="1.50" stroke-linejoin="miter"/>
<text transform="translate(375.5,623.5) rotate(-11.0)" x="0" y="0" font-size="17" text-anchor="middle">uHTS159</text>
<text transform="translate(137.61,673.80) rotate(-90)" x="-0.00" y="0" font-size="16.50" textLength="79.80" lengthAdjust="spacingAndGlyphs">Amiloride</text>
<line x1="130.80" y1="679.60" x2="130.80" y2="692.30" stroke="#000" stroke-width="1.40"/>
<path d="M125.60,691.30 L136.00,691.30 L130.80,701.70 Z" fill="#000"/>
<text transform="translate(212.41,848.20) rotate(-90)" x="-0.00" y="0" font-size="16.50" textLength="32.90" lengthAdjust="spacingAndGlyphs">1nM</text>
<line x1="205.00" y1="852.70" x2="205.00" y2="865.20" stroke="#000" stroke-width="1.40"/>
<path d="M199.80,864.20 L210.20,864.20 L205.00,874.60 Z" fill="#000"/>
<text transform="translate(243.51,848.00) rotate(-90)" x="-0.00" y="0" font-size="16.50" textLength="43.58" lengthAdjust="spacingAndGlyphs">10nM</text>
<line x1="236.50" y1="852.50" x2="236.50" y2="865.20" stroke="#000" stroke-width="1.40"/>
<path d="M231.30,864.20 L241.70,864.20 L236.50,874.60 Z" fill="#000"/>
<text transform="translate(275.51,843.00) rotate(-90)" x="-0.00" y="0" font-size="16.50" textLength="42.38" lengthAdjust="spacingAndGlyphs">90nM</text>
<line x1="269.20" y1="847.50" x2="269.20" y2="859.00" stroke="#000" stroke-width="1.40"/>
<path d="M264.00,858.00 L274.40,858.00 L269.20,868.40 Z" fill="#000"/>
<text transform="translate(307.71,803.80) rotate(-90)" x="-0.00" y="0" font-size="16.50" textLength="54.00" lengthAdjust="spacingAndGlyphs">400nM</text>
<line x1="301.80" y1="808.30" x2="301.80" y2="820.90" stroke="#000" stroke-width="1.40"/>
<path d="M296.60,819.90 L307.00,819.90 L301.80,830.30 Z" fill="#000"/>
<text transform="translate(362.31,776.30) rotate(-90)" x="-0.00" y="0" font-size="16.50" textLength="52.90" lengthAdjust="spacingAndGlyphs">500nM</text>
<line x1="356.40" y1="780.80" x2="356.40" y2="793.40" stroke="#000" stroke-width="1.40"/>
<path d="M351.20,792.40 L361.60,792.40 L356.40,802.80 Z" fill="#000"/>
<text transform="translate(409.47,689.00) rotate(-90)" x="-0.00" y="0" font-size="16.50" textLength="32.68" lengthAdjust="spacingAndGlyphs">2µM</text>
<line x1="404.00" y1="693.50" x2="404.00" y2="706.60" stroke="#000" stroke-width="1.40"/>
<path d="M398.80,705.60 L409.20,705.60 L404.00,716.00 Z" fill="#000"/>
<text transform="translate(464.87,665.40) rotate(-90)" x="-0.00" y="0" font-size="16.50" textLength="33.68" lengthAdjust="spacingAndGlyphs">2µM</text>
<line x1="459.40" y1="669.90" x2="459.40" y2="682.90" stroke="#000" stroke-width="1.40"/>
<path d="M454.20,681.90 L464.60,681.90 L459.40,692.30 Z" fill="#000"/>
<text transform="translate(499.47,662.50) rotate(-90)" x="-0.00" y="0" font-size="16.50" textLength="33.68" lengthAdjust="spacingAndGlyphs">2µM</text>
<line x1="494.00" y1="667.00" x2="494.00" y2="682.90" stroke="#000" stroke-width="1.40"/>
<path d="M488.80,681.90 L499.20,681.90 L494.00,692.30 Z" fill="#000"/>
<text transform="translate(539.87,658.70) rotate(-90)" x="-0.00" y="0" font-size="16.50" textLength="41.40" lengthAdjust="spacingAndGlyphs">10µM</text>
<line x1="534.40" y1="663.20" x2="534.40" y2="680.00" stroke="#000" stroke-width="1.40"/>
<path d="M529.20,679.00 L539.60,679.00 L534.40,689.40 Z" fill="#000"/>
<text transform="translate(572.57,662.50) rotate(-90)" x="-0.00" y="0" font-size="16.50" textLength="42.30" lengthAdjust="spacingAndGlyphs">10µM</text>
<line x1="567.10" y1="667.00" x2="567.10" y2="682.90" stroke="#000" stroke-width="1.40"/>
<path d="M561.90,681.90 L572.30,681.90 L567.10,692.30 Z" fill="#000"/>
<text x="581.90" y="676.90" font-size="16.00" fill="#000" textLength="73.11" lengthAdjust="spacingAndGlyphs">forskolin</text>
<line x1="599.80" y1="681.50" x2="599.80" y2="694.40" stroke="#000" stroke-width="1.40"/>
<path d="M594.60,693.40 L605.00,693.40 L599.80,703.80 Z" fill="#000"/>
<text x="633.70" y="704.80" font-size="16.00" fill="#000" textLength="65.91" lengthAdjust="spacingAndGlyphs">Inh.-172</text>
<line x1="641.20" y1="707.70" x2="641.20" y2="720.40" stroke="#000" stroke-width="1.40"/>
<path d="M636.00,719.40 L646.40,719.40 L641.20,729.80 Z" fill="#000"/>
<text x="663.80" y="811.80" font-size="16.00" fill="#000" textLength="33.70" lengthAdjust="spacingAndGlyphs">UTP</text>
<line x1="681.30" y1="816.00" x2="681.30" y2="828.60" stroke="#000" stroke-width="1.40"/>
<path d="M676.10,827.60 L686.50,827.60 L681.30,838.00 Z" fill="#000"/>
<path d="M88.80,654.60 L97.32,669.25 Q99.50,673.00 101.93,676.60 L102.47,677.40 Q104.90,681.00 107.52,684.47 L109.00,686.43 Q111.70,690.00 114.53,693.47 L115.17,694.24 Q118.00,697.70 121.00,701.02 L129.04,709.94 Q131.80,713.00 132.56,717.05 L132.74,717.95 Q133.50,722.00 133.52,726.12 L133.97,824.00 Q134.00,830.00 135.74,835.74 L137.16,840.46 Q138.90,846.20 142.58,850.94 L147.12,856.76 Q150.80,861.50 155.45,865.29 L163.53,871.86 Q166.90,874.60 170.72,876.67 L171.58,877.13 Q175.40,879.20 179.60,880.33 L191.01,883.42 Q195.40,884.60 199.90,885.23 L200.90,885.37 Q205.40,886.00 209.94,886.23 L248.95,888.25 Q253.80,888.50 258.66,888.50 L259.74,888.50 Q264.60,888.50 269.45,888.77 L271.49,888.89 Q277.00,889.20 279.25,884.16 L279.75,883.04 Q282.00,878.00 287.50,877.53 L301.72,876.31 Q307.70,875.80 309.00,869.94 L311.70,857.86 Q313.00,852.00 317.33,847.85 L320.37,844.95 Q324.70,840.80 330.07,838.13 L336.23,835.07 Q341.60,832.40 346.45,828.86 L360.05,818.94 Q364.90,815.40 366.04,809.51 L367.86,800.19 Q369.00,794.30 370.47,788.48 L373.93,774.72 Q375.40,768.90 377.84,763.42 L381.46,755.28 Q383.90,749.80 387.50,745.00 L393.00,737.70 Q396.60,732.90 402.30,731.02 L403.60,730.58 Q409.30,728.70 411.22,723.02 L411.68,721.68 Q413.60,716.00 415.68,710.37 L418.05,703.98 Q419.90,699.00 424.67,696.66 L428.51,694.77 Q430.50,693.80 432.70,693.98 L433.19,694.02 Q435.40,694.20 437.59,694.48 L444.85,695.43 Q450.80,696.20 455.85,699.44 L461.89,703.32 Q464.20,704.80 466.81,703.94 L467.39,703.75 Q470.00,702.90 472.72,703.24 L487.05,705.05 Q493.00,705.80 498.73,707.58 L510.47,711.22 Q516.20,713.00 521.81,715.12 L534.39,719.88 Q540.00,722.00 545.37,724.68 L554.63,729.32 Q560.00,732.00 565.57,734.23 L574.43,737.77 Q580.00,740.00 585.75,741.72 L594.25,744.28 Q600.00,746.00 605.95,746.74 L610.05,747.26 Q616.00,748.00 620.41,752.07 L634.33,764.89 Q637.70,768.00 640.54,771.60 L641.16,772.40 Q644.00,776.00 644.65,780.54 L645.15,784.06 Q646.00,790.00 646.06,796.00 L646.94,889.00 Q647.00,895.00 649.47,900.47 L651.03,903.93 Q653.50,909.40 657.46,913.91 L661.04,917.99 Q665.00,922.50 669.87,926.01 L677.30,931.36 Q680.40,933.60 682.92,936.48 L686.00,940.00 L687.00,845.00 L690.53,881.93 Q691.10,887.90 694.53,892.82 L699.87,900.48 Q703.30,905.40 706.71,910.34 L711.99,917.96 Q715.40,922.90 719.14,927.59 L726.10,936.30" fill="none" stroke="#ff1400" stroke-width="2.70" stroke-linejoin="round" stroke-linecap="round" stroke-dasharray="17,11.2,0.1,10.2,0.1,10.4"/>
<path d="M88.80,721.50 L128.07,757.20 Q129.50,758.50 131.07,759.62 L131.43,759.88 Q133.00,761.00 133.02,762.94 L133.96,865.10 Q134.00,870.00 137.06,873.83 L137.74,874.67 Q140.80,878.50 144.80,881.33 L148.90,884.23 Q153.80,887.70 159.34,890.01 L166.76,893.09 Q172.30,895.40 178.21,896.44 L197.09,899.76 Q203.00,900.80 209.00,901.04 L235.63,902.12 Q240.00,902.30 244.14,900.90 L245.06,900.60 Q249.20,899.20 253.57,899.16 L265.13,899.05 Q270.00,899.00 272.70,894.95 L273.30,894.05 Q276.00,890.00 280.75,888.96 L287.04,887.58 Q292.90,886.30 298.89,885.90 L301.71,885.70 Q307.70,885.30 308.56,879.36 L311.14,861.64 Q312.00,855.70 317.90,854.61 L329.30,852.49 Q335.20,851.40 341.17,850.82 L361.03,848.88 Q367.00,848.30 367.62,842.33 L368.66,832.34 Q369.10,828.10 372.93,826.21 L373.78,825.79 Q377.60,823.90 381.84,823.47 L403.33,821.30 Q409.30,820.70 410.02,814.74 L412.78,791.76 Q413.50,785.80 416.20,780.44 L417.20,778.46 Q419.90,773.10 424.14,768.86 L427.26,765.74 Q431.50,761.50 437.36,760.21 L442.94,758.99 Q448.80,757.70 454.74,758.54 L456.36,758.76 Q462.30,759.60 466.56,755.37 L471.54,750.43 Q475.80,746.20 481.44,744.14 L491.26,740.56 Q496.90,738.50 499.87,733.29 L501.86,729.81 Q504.60,725.00 508.06,720.68 L508.83,719.72 Q512.30,715.40 517.84,715.40 L529.40,715.40 Q535.40,715.40 541.28,714.21 L548.72,712.69 Q554.60,711.50 560.59,711.15 L565.92,710.84 Q570.00,710.60 573.47,712.76 L574.24,713.24 Q577.70,715.40 581.71,716.18 L607.79,721.23 Q612.30,722.10 615.76,719.09 L616.53,718.41 Q620.00,715.40 623.53,718.34 L626.89,721.15 Q631.50,725.00 636.07,728.89 L640.43,732.61 Q645.00,736.50 645.04,742.50 L645.96,874.00 Q646.00,880.00 647.18,885.88 L648.82,894.12 Q650.00,900.00 652.86,905.27 L657.34,913.53 Q660.20,918.80 662.31,924.42 L666.51,935.63 Q668.30,940.40 671.90,944.00 L672.70,944.80 Q676.30,948.40 680.31,951.54 L686.00,956.00 L687.00,865.00 L691.15,894.06 Q692.00,900.00 694.23,905.57 L697.77,914.43 Q700.00,920.00 703.23,925.06 L708.30,932.99 Q711.30,937.70 714.94,941.93 L715.75,942.87 Q719.40,947.10 722.86,951.48 L728.00,958.00" fill="none" stroke="#ff1400" stroke-width="2.70" stroke-linejoin="round" stroke-linecap="round" stroke-dasharray="0.1,5.15"/>
<path d="M88.80,748.50 L122.51,775.91 Q125.70,778.50 128.99,780.98 L129.72,781.52 Q133.00,784.00 133.05,788.11 L133.94,869.75 Q134.00,875.00 137.82,878.60 L138.68,879.40 Q142.50,883.00 147.30,885.14 L154.52,888.36 Q160.00,890.80 165.69,892.71 L172.81,895.09 Q178.50,897.00 184.49,897.41 L204.81,898.79 Q210.80,899.20 216.80,899.20 L227.80,899.20 Q233.80,899.20 239.63,897.76 L243.37,896.84 Q249.20,895.40 255.20,895.61 L268.07,896.05 Q272.30,896.20 275.76,893.77 L277.39,892.63 Q280.00,890.80 280.90,887.74 L281.10,887.06 Q282.00,884.00 285.16,883.59 L299.05,881.78 Q305.00,881.00 306.90,875.31 L308.54,870.39 Q310.00,866.00 312.79,862.31 L313.41,861.49 Q316.20,857.80 320.42,855.91 L329.72,851.75 Q335.20,849.30 340.95,847.59 L351.06,844.59 Q356.40,843.00 361.17,840.12 L362.23,839.48 Q367.00,836.60 368.95,831.38 L371.20,825.32 Q373.30,819.70 377.85,815.79 L383.55,810.91 Q388.10,807.00 393.76,805.02 L404.85,801.15 Q409.30,799.60 411.19,795.28 L411.61,794.32 Q413.50,790.00 414.58,785.41 L420.62,759.84 Q422.00,754.00 427.09,750.83 L434.11,746.47 Q439.20,743.30 445.19,742.99 L454.62,742.50 Q458.50,742.30 461.96,744.05 L462.74,744.45 Q466.20,746.20 468.25,742.90 L472.63,735.89 Q475.80,730.80 481.78,731.34 L490.92,732.16 Q496.90,732.70 501.12,728.44 L503.41,726.12 Q506.50,723.00 510.87,723.45 L511.84,723.55 Q516.20,724.00 520.54,724.68 L529.47,726.07 Q535.40,727.00 540.98,729.21 L549.02,732.39 Q554.60,734.60 559.97,737.28 L568.43,741.52 Q573.80,744.20 579.62,745.66 L587.18,747.54 Q593.00,749.00 598.87,750.24 L606.13,751.76 Q612.00,753.00 617.07,756.20 L625.93,761.80 Q631.00,765.00 635.39,769.09 L640.01,773.41 Q644.40,777.50 644.49,783.50 L645.91,874.00 Q646.00,880.00 646.79,885.95 L647.34,890.01 Q648.00,895.00 649.85,899.68 L650.25,900.72 Q652.10,905.40 654.19,909.98 L659.01,920.54 Q661.50,926.00 665.98,929.99 L670.94,934.39 Q675.00,938.00 679.95,940.25 L686.00,943.00 L687.50,862.00 L689.61,894.09 Q690.00,900.00 692.34,905.45 L692.86,906.65 Q695.20,912.10 698.31,917.14 L702.85,924.49 Q706.00,929.60 709.71,934.32 L726.10,955.20" fill="none" stroke="#ff1400" stroke-width="2.70" stroke-linejoin="round" stroke-linecap="round" stroke-dasharray="7.3,10.7"/>
<path d="M88.80,701.50 L103.97,717.35 Q106.50,720.00 109.25,722.43 L109.85,722.97 Q112.60,725.40 115.49,727.65 L124.08,734.32 Q126.50,736.20 129.25,737.55 L131.42,738.62 Q132.60,739.20 132.96,740.46 L133.04,740.74 Q133.40,742.00 133.40,743.31 L133.79,856.94 Q133.80,860.00 135.24,862.70 L135.56,863.30 Q137.00,866.00 138.01,868.89 L138.80,871.17 Q140.00,874.60 143.47,875.68 L144.23,875.92 Q147.70,877.00 151.04,878.43 L163.68,883.84 Q169.20,886.20 175.19,886.61 L197.42,888.12 Q203.00,888.50 208.58,888.82 L213.11,889.07 Q215.40,889.20 217.47,888.21 L217.93,887.99 Q220.00,887.00 222.27,887.33 L227.94,888.15 Q233.80,889.00 239.38,887.02 L244.37,885.25 Q246.20,884.60 247.55,883.21 L247.85,882.89 Q249.20,881.50 251.14,881.43 L268.90,880.81 Q274.90,880.60 277.64,875.26 L279.56,871.54 Q282.30,866.20 288.27,865.56 L299.63,864.34 Q305.60,863.70 306.73,857.81 L311.16,834.69 Q312.00,830.30 315.78,827.91 L316.62,827.38 Q320.40,825.00 324.73,823.90 L331.58,822.17 Q337.40,820.70 343.32,819.72 L361.48,816.72 Q362.80,816.50 363.75,817.45 L363.95,817.65 Q364.90,818.60 365.26,817.31 L369.56,802.17 Q371.20,796.40 376.56,793.70 L378.54,792.70 Q383.90,790.00 389.62,788.18 L406.20,782.92 Q407.20,782.60 408.14,782.15 L408.36,782.05 Q409.30,781.60 409.46,780.57 L414.76,747.33 Q415.70,741.40 419.01,736.40 L421.78,732.21 Q424.10,728.70 427.43,726.13 L428.17,725.57 Q431.50,723.00 435.67,722.46 L437.82,722.17 Q443.00,721.50 448.05,722.81 L455.14,724.64 Q460.40,726.00 463.01,721.23 L463.73,719.91 Q466.20,715.40 470.52,712.61 L471.48,711.99 Q475.80,709.20 480.90,708.53 L483.06,708.25 Q487.30,707.70 491.22,709.41 L492.08,709.79 Q496.00,711.50 498.08,707.77 L498.64,706.77 Q500.80,702.90 504.26,700.13 L506.08,698.66 Q510.40,695.20 515.88,694.42 L517.86,694.14 Q523.80,693.30 529.74,694.14 L534.19,694.76 Q537.30,695.20 539.05,697.81 L539.47,698.42 Q541.20,701.00 543.76,699.25 L544.34,698.86 Q546.90,697.10 550.00,696.86 L553.28,696.61 Q558.50,696.20 563.67,697.05 L566.58,697.53 Q570.00,698.10 571.71,701.12 L572.09,701.78 Q573.80,704.80 577.27,704.80 L579.13,704.80 Q583.50,704.80 587.70,706.00 L607.46,711.66 Q610.40,712.50 612.56,710.34 L613.25,709.65 Q615.20,707.70 617.36,709.41 L617.84,709.79 Q620.00,711.50 621.71,713.66 L627.77,721.30 Q631.50,726.00 635.92,730.06 L642.98,736.56 Q644.00,737.50 644.81,738.62 L644.99,738.88 Q645.80,740.00 645.81,741.39 L646.48,875.23 Q646.50,880.00 646.59,884.77 L646.61,885.83 Q646.70,890.60 647.74,895.26 L648.19,897.25 Q649.40,902.70 651.49,907.87 L652.56,910.53 Q654.80,916.10 657.89,921.24 L659.81,924.46 Q662.90,929.60 667.41,933.56 L669.09,935.04 Q673.60,939.00 678.86,941.89 L685.80,945.70 L687.10,856.90 L688.80,891.31 Q689.10,897.30 691.98,902.56 L693.62,905.54 Q696.50,910.80 699.84,915.78 L703.96,921.92 Q707.30,926.90 711.30,931.37 L730.20,952.50" fill="none" stroke="#ff1400" stroke-width="2.70" stroke-linejoin="round" stroke-linecap="round"/>
<rect x="800.50" y="54.50" width="644.80" height="446.10" fill="none" stroke="#000" stroke-width="1.70"/>
<text x="896.50" y="101.20" font-size="23.20" fill="#000" textLength="492.51" lengthAdjust="spacingAndGlyphs">HDCF104 dose-response on HBEC WT CFTR</text>
<line x1="909.90" y1="141.90" x2="909.90" y2="473.10" stroke="#000" stroke-width="2.80"/>
<line x1="908.50" y1="389.70" x2="1374.00" y2="389.70" stroke="#000" stroke-width="2.80"/>
<line x1="896.40" y1="471.90" x2="909.90" y2="471.90" stroke="#000" stroke-width="2.60"/>
<text x="873.42" y="480.30" font-size="24.50" fill="#000" textLength="19.17" lengthAdjust="spacingAndGlyphs">-5</text>
<line x1="896.40" y1="389.70" x2="909.90" y2="389.70" stroke="#000" stroke-width="2.60"/>
<text x="880.59" y="398.10" font-size="24.50" fill="#000" textLength="11.99" lengthAdjust="spacingAndGlyphs">0</text>
<line x1="896.40" y1="307.50" x2="909.90" y2="307.50" stroke="#000" stroke-width="2.60"/>
<text x="880.59" y="315.90" font-size="24.50" fill="#000" textLength="11.99" lengthAdjust="spacingAndGlyphs">5</text>
<line x1="896.40" y1="225.30" x2="909.90" y2="225.30" stroke="#000" stroke-width="2.60"/>
<text x="868.62" y="233.70" font-size="24.50" fill="#000" textLength="23.98" lengthAdjust="spacingAndGlyphs">10</text>
<line x1="896.40" y1="143.10" x2="909.90" y2="143.10" stroke="#000" stroke-width="2.60"/>
<text x="868.62" y="151.50" font-size="24.50" fill="#000" textLength="23.98" lengthAdjust="spacingAndGlyphs">15</text>
<line x1="933.21" y1="389.70" x2="933.21" y2="397.20" stroke="#000" stroke-width="2.20"/>
<line x1="946.79" y1="389.70" x2="946.79" y2="397.20" stroke="#000" stroke-width="2.20"/>
<line x1="956.42" y1="389.70" x2="956.42" y2="397.20" stroke="#000" stroke-width="2.20"/>
<line x1="963.89" y1="389.70" x2="963.89" y2="397.20" stroke="#000" stroke-width="2.20"/>
<line x1="970.00" y1="389.70" x2="970.00" y2="397.20" stroke="#000" stroke-width="2.20"/>
<line x1="975.16" y1="389.70" x2="975.16" y2="397.20" stroke="#000" stroke-width="2.20"/>
<line x1="979.63" y1="389.70" x2="979.63" y2="397.20" stroke="#000" stroke-width="2.20"/>
<line x1="983.57" y1="389.70" x2="983.57" y2="397.20" stroke="#000" stroke-width="2.20"/>
<line x1="987.10" y1="389.70" x2="987.10" y2="402.70" stroke="#000" stroke-width="2.60"/>
<line x1="1010.31" y1="389.70" x2="1010.31" y2="397.20" stroke="#000" stroke-width="2.20"/>
<line x1="1023.89" y1="389.70" x2="1023.89" y2="397.20" stroke="#000" stroke-width="2.20"/>
<line x1="1033.52" y1="389.70" x2="1033.52" y2="397.20" stroke="#000" stroke-width="2.20"/>
<line x1="1040.99" y1="389.70" x2="1040.99" y2="397.20" stroke="#000" stroke-width="2.20"/>
<line x1="1047.10" y1="389.70" x2="1047.10" y2="397.20" stroke="#000" stroke-width="2.20"/>
<line x1="1052.26" y1="389.70" x2="1052.26" y2="397.20" stroke="#000" stroke-width="2.20"/>
<line x1="1056.73" y1="389.70" x2="1056.73" y2="397.20" stroke="#000" stroke-width="2.20"/>
<line x1="1060.67" y1="389.70" x2="1060.67" y2="397.20" stroke="#000" stroke-width="2.20"/>
<line x1="1064.20" y1="389.70" x2="1064.20" y2="402.70" stroke="#000" stroke-width="2.60"/>
<line x1="1087.41" y1="389.70" x2="1087.41" y2="397.20" stroke="#000" stroke-width="2.20"/>
<line x1="1100.99" y1="389.70" x2="1100.99" y2="397.20" stroke="#000" stroke-width="2.20"/>
<line x1="1110.62" y1="389.70" x2="1110.62" y2="397.20" stroke="#000" stroke-width="2.20"/>
<line x1="1118.09" y1="389.70" x2="1118.09" y2="397.20" stroke="#000" stroke-width="2.20"/>
<line x1="1124.20" y1="389.70" x2="1124.20" y2="397.20" stroke="#000" stroke-width="2.20"/>
<line x1="1129.36" y1="389.70" x2="1129.36" y2="397.20" stroke="#000" stroke-width="2.20"/>
<line x1="1133.83" y1="389.70" x2="1133.83" y2="397.20" stroke="#000" stroke-width="2.20"/>
<line x1="1137.77" y1="389.70" x2="1137.77" y2="397.20" stroke="#000" stroke-width="2.20"/>
<line x1="1141.30" y1="389.70" x2="1141.30" y2="402.70" stroke="#000" stroke-width="2.60"/>
<line x1="1164.51" y1="389.70" x2="1164.51" y2="397.20" stroke="#000" stroke-width="2.20"/>
<line x1="1178.09" y1="389.70" x2="1178.09" y2="397.20" stroke="#000" stroke-width="2.20"/>
<line x1="1187.72" y1="389.70" x2="1187.72" y2="397.20" stroke="#000" stroke-width="2.20"/>
<line x1="1195.19" y1="389.70" x2="1195.19" y2="397.20" stroke="#000" stroke-width="2.20"/>
<line x1="1201.30" y1="389.70" x2="1201.30" y2="397.20" stroke="#000" stroke-width="2.20"/>
<line x1="1206.46" y1="389.70" x2="1206.46" y2="397.20" stroke="#000" stroke-width="2.20"/>
<line x1="1210.93" y1="389.70" x2="1210.93" y2="397.20" stroke="#000" stroke-width="2.20"/>
<line x1="1214.87" y1="389.70" x2="1214.87" y2="397.20" stroke="#000" stroke-width="2.20"/>
<line x1="1218.40" y1="389.70" x2="1218.40" y2="402.70" stroke="#000" stroke-width="2.60"/>
<line x1="1241.61" y1="389.70" x2="1241.61" y2="397.20" stroke="#000" stroke-width="2.20"/>
<line x1="1255.19" y1="389.70" x2="1255.19" y2="397.20" stroke="#000" stroke-width="2.20"/>
<line x1="1264.82" y1="389.70" x2="1264.82" y2="397.20" stroke="#000" stroke-width="2.20"/>
<line x1="1272.29" y1="389.70" x2="1272.29" y2="397.20" stroke="#000" stroke-width="2.20"/>
<line x1="1278.40" y1="389.70" x2="1278.40" y2="397.20" stroke="#000" stroke-width="2.20"/>
<line x1="1283.56" y1="389.70" x2="1283.56" y2="397.20" stroke="#000" stroke-width="2.20"/>
<line x1="1288.03" y1="389.70" x2="1288.03" y2="397.20" stroke="#000" stroke-width="2.20"/>
<line x1="1291.97" y1="389.70" x2="1291.97" y2="397.20" stroke="#000" stroke-width="2.20"/>
<line x1="1295.50" y1="389.70" x2="1295.50" y2="402.70" stroke="#000" stroke-width="2.60"/>
<line x1="1318.71" y1="389.70" x2="1318.71" y2="397.20" stroke="#000" stroke-width="2.20"/>
<line x1="1332.29" y1="389.70" x2="1332.29" y2="397.20" stroke="#000" stroke-width="2.20"/>
<line x1="1341.92" y1="389.70" x2="1341.92" y2="397.20" stroke="#000" stroke-width="2.20"/>
<line x1="1349.39" y1="389.70" x2="1349.39" y2="397.20" stroke="#000" stroke-width="2.20"/>
<line x1="1355.50" y1="389.70" x2="1355.50" y2="397.20" stroke="#000" stroke-width="2.20"/>
<line x1="1360.66" y1="389.70" x2="1360.66" y2="397.20" stroke="#000" stroke-width="2.20"/>
<line x1="1365.13" y1="389.70" x2="1365.13" y2="397.20" stroke="#000" stroke-width="2.20"/>
<line x1="1369.07" y1="389.70" x2="1369.07" y2="397.20" stroke="#000" stroke-width="2.20"/>
<line x1="1372.60" y1="389.70" x2="1372.60" y2="402.70" stroke="#000" stroke-width="2.60"/>
<text x="957.15" y="430.50" font-size="23.70" fill="#000" textLength="54.11" lengthAdjust="spacingAndGlyphs">0.001</text>
<text x="1041.65" y="430.50" font-size="23.70" fill="#000" textLength="41.68" lengthAdjust="spacingAndGlyphs">0.01</text>
<text x="1124.60" y="430.50" font-size="23.70" fill="#000" textLength="29.60" lengthAdjust="spacingAndGlyphs">0.1</text>
<text x="1215.05" y="430.50" font-size="23.70" fill="#000" textLength="7.49" lengthAdjust="spacingAndGlyphs">1</text>
<text x="1284.75" y="430.50" font-size="23.70" fill="#000" textLength="22.31" lengthAdjust="spacingAndGlyphs">10</text>
<text x="1355.75" y="430.50" font-size="23.70" fill="#000" textLength="34.69" lengthAdjust="spacingAndGlyphs">100</text>
<path d="M987.1,399.6 L988.6,399.6 L990.2,399.6 L991.7,399.6 L993.3,399.6 L994.8,399.6 L996.4,399.6 L997.9,399.6 L999.4,399.6 L1001.0,399.6 L1002.5,399.6 L1004.1,399.6 L1005.6,399.6 L1007.1,399.6 L1008.7,399.6 L1010.2,399.6 L1011.8,399.6 L1013.3,399.6 L1014.9,399.6 L1016.4,399.5 L1017.9,399.5 L1019.5,399.5 L1021.0,399.5 L1022.6,399.5 L1024.1,399.5 L1025.7,399.5 L1027.2,399.5 L1028.7,399.5 L1030.3,399.5 L1031.8,399.5 L1033.4,399.5 L1034.9,399.5 L1036.4,399.5 L1038.0,399.5 L1039.5,399.5 L1041.1,399.5 L1042.6,399.5 L1044.2,399.5 L1045.7,399.5 L1047.2,399.5 L1048.8,399.5 L1050.3,399.5 L1051.9,399.5 L1053.4,399.5 L1054.9,399.5 L1056.5,399.5 L1058.0,399.5 L1059.6,399.5 L1061.1,399.5 L1062.7,399.5 L1064.2,399.5 L1065.7,399.5 L1067.3,399.5 L1068.8,399.5 L1070.4,399.4 L1071.9,399.4 L1073.5,399.4 L1075.0,399.4 L1076.5,399.4 L1078.1,399.4 L1079.6,399.4 L1081.2,399.4 L1082.7,399.4 L1084.2,399.4 L1085.8,399.4 L1087.3,399.3 L1088.9,399.3 L1090.4,399.3 L1092.0,399.3 L1093.5,399.3 L1095.0,399.3 L1096.6,399.2 L1098.1,399.2 L1099.7,399.2 L1101.2,399.2 L1102.8,399.2 L1104.3,399.1 L1105.8,399.1 L1107.4,399.1 L1108.9,399.0 L1110.5,399.0 L1112.0,399.0 L1113.5,398.9 L1115.1,398.9 L1116.6,398.9 L1118.2,398.8 L1119.7,398.8 L1121.3,398.7 L1122.8,398.7 L1124.3,398.6 L1125.9,398.6 L1127.4,398.5 L1129.0,398.4 L1130.5,398.4 L1132.0,398.3 L1133.6,398.2 L1135.1,398.1 L1136.7,398.1 L1138.2,398.0 L1139.8,397.9 L1141.3,397.8 L1142.8,397.6 L1144.4,397.5 L1145.9,397.4 L1147.5,397.3 L1149.0,397.1 L1150.6,397.0 L1152.1,396.8 L1153.6,396.7 L1155.2,396.5 L1156.7,396.3 L1158.3,396.1 L1159.8,395.9 L1161.3,395.7 L1162.9,395.4 L1164.4,395.2 L1166.0,394.9 L1167.5,394.6 L1169.1,394.3 L1170.6,394.0 L1172.1,393.7 L1173.7,393.3 L1175.2,393.0 L1176.8,392.6 L1178.3,392.1 L1179.9,391.7 L1181.4,391.2 L1182.9,390.7 L1184.5,390.2 L1186.0,389.7 L1187.6,389.1 L1189.1,388.5 L1190.6,387.8 L1192.2,387.1 L1193.7,386.4 L1195.3,385.7 L1196.8,384.8 L1198.4,384.0 L1199.9,383.1 L1201.4,382.2 L1203.0,381.2 L1204.5,380.1 L1206.1,379.0 L1207.6,377.9 L1209.1,376.7 L1210.7,375.4 L1212.2,374.1 L1213.8,372.7 L1215.3,371.3 L1216.9,369.7 L1218.4,368.2 L1219.9,366.5 L1221.5,364.8 L1223.0,363.0 L1224.6,361.1 L1226.1,359.1 L1227.7,357.1 L1229.2,355.0 L1230.7,352.8 L1232.3,350.5 L1233.8,348.1 L1235.4,345.7 L1236.9,343.2 L1238.4,340.6 L1240.0,337.9 L1241.5,335.2 L1243.1,332.3 L1244.6,329.4 L1246.2,326.5 L1247.7,323.5 L1249.2,320.4 L1250.8,317.2 L1252.3,314.0 L1253.9,310.7 L1255.4,307.4 L1257.0,304.1 L1258.5,300.7 L1260.0,297.3 L1261.6,293.9 L1263.1,290.4 L1264.7,287.0 L1266.2,283.5 L1267.7,280.0 L1269.3,276.6 L1270.8,273.1 L1272.4,269.7 L1273.9,266.3 L1275.5,262.9 L1277.0,259.6 L1278.5,256.3 L1280.1,253.0 L1281.6,249.8 L1283.2,246.7 L1284.7,243.6 L1286.2,240.6 L1287.8,237.6 L1289.3,234.7 L1290.9,231.9 L1292.4,229.2 L1294.0,226.5 L1295.5,223.9 L1297.0,221.4 L1298.6,219.0 L1300.1,216.6 L1301.7,214.4 L1303.2,212.2 L1304.8,210.1 L1306.3,208.0 L1307.8,206.1 L1309.4,204.2 L1310.9,202.4 L1312.5,200.7 L1314.0,199.0 L1315.5,197.4 L1317.1,195.9 L1318.6,194.5 L1320.2,193.1 L1321.7,191.8 L1323.3,190.5 L1324.8,189.3 L1326.3,188.2 L1327.9,187.1 L1329.4,186.1 L1331.0,185.1" fill="none" stroke="#000" stroke-width="1.70" stroke-linejoin="round" stroke-linecap="butt"/>
<circle cx="987.10" cy="396.77" r="6.4" fill="#000"/>
<circle cx="1064.20" cy="400.22" r="6.4" fill="#000"/>
<line x1="1141.30" y1="394.63" x2="1141.30" y2="409.92" stroke="#000" stroke-width="1.70"/>
<line x1="1135.50" y1="394.63" x2="1147.10" y2="394.63" stroke="#000" stroke-width="1.70"/>
<line x1="1135.50" y1="409.92" x2="1147.10" y2="409.92" stroke="#000" stroke-width="1.70"/>
<circle cx="1141.30" cy="401.37" r="6.4" fill="#000"/>
<line x1="1195.19" y1="371.62" x2="1195.19" y2="399.56" stroke="#000" stroke-width="1.70"/>
<line x1="1189.39" y1="371.62" x2="1200.99" y2="371.62" stroke="#000" stroke-width="1.70"/>
<line x1="1189.39" y1="399.56" x2="1200.99" y2="399.56" stroke="#000" stroke-width="1.70"/>
<circle cx="1195.19" cy="384.93" r="6.4" fill="#000"/>
<line x1="1218.40" y1="347.78" x2="1218.40" y2="390.52" stroke="#000" stroke-width="1.70"/>
<line x1="1212.60" y1="347.78" x2="1224.20" y2="347.78" stroke="#000" stroke-width="1.70"/>
<line x1="1212.60" y1="390.52" x2="1224.20" y2="390.52" stroke="#000" stroke-width="1.70"/>
<circle cx="1218.40" cy="369.31" r="6.4" fill="#000"/>
<line x1="1255.19" y1="274.62" x2="1255.19" y2="337.09" stroke="#000" stroke-width="1.70"/>
<line x1="1249.39" y1="274.62" x2="1260.99" y2="274.62" stroke="#000" stroke-width="1.70"/>
<line x1="1249.39" y1="337.09" x2="1260.99" y2="337.09" stroke="#000" stroke-width="1.70"/>
<circle cx="1255.19" cy="305.86" r="6.4" fill="#000"/>
<line x1="1272.29" y1="244.70" x2="1272.29" y2="305.36" stroke="#000" stroke-width="1.70"/>
<line x1="1266.49" y1="244.70" x2="1278.09" y2="244.70" stroke="#000" stroke-width="1.70"/>
<line x1="1266.49" y1="305.36" x2="1278.09" y2="305.36" stroke="#000" stroke-width="1.70"/>
<circle cx="1272.29" cy="274.95" r="6.4" fill="#000"/>
<line x1="1295.50" y1="197.02" x2="1295.50" y2="256.54" stroke="#000" stroke-width="1.70"/>
<line x1="1289.70" y1="197.02" x2="1301.30" y2="197.02" stroke="#000" stroke-width="1.70"/>
<line x1="1289.70" y1="256.54" x2="1301.30" y2="256.54" stroke="#000" stroke-width="1.70"/>
<circle cx="1295.50" cy="226.94" r="6.4" fill="#000"/>
<line x1="1318.71" y1="163.98" x2="1318.71" y2="213.30" stroke="#000" stroke-width="1.70"/>
<line x1="1312.91" y1="163.98" x2="1324.51" y2="163.98" stroke="#000" stroke-width="1.70"/>
<line x1="1312.91" y1="213.30" x2="1324.51" y2="213.30" stroke="#000" stroke-width="1.70"/>
<circle cx="1318.71" cy="188.47" r="6.4" fill="#000"/>
<line x1="1332.29" y1="163.98" x2="1332.29" y2="219.55" stroke="#000" stroke-width="1.70"/>
<line x1="1326.49" y1="163.98" x2="1338.09" y2="163.98" stroke="#000" stroke-width="1.70"/>
<line x1="1326.49" y1="219.55" x2="1338.09" y2="219.55" stroke="#000" stroke-width="1.70"/>
<circle cx="1332.29" cy="192.42" r="6.4" fill="#000"/>
<text x="983.80" y="296.50" font-size="20.30" fill="#000" textLength="27.60" lengthAdjust="spacingAndGlyphs">EC</text>
<text x="1014.10" y="304.00" font-size="11.00" fill="#000" textLength="12.19" lengthAdjust="spacingAndGlyphs">50</text>
<text x="1028.50" y="296.50" font-size="20.30" fill="#000" textLength="90.51" lengthAdjust="spacingAndGlyphs">= 4.16µM</text>
<text transform="translate(852.7,394.6) rotate(-90)" x="0" y="0" font-size="23.5" textLength="175" lengthAdjust="spacingAndGlyphs">ΔIsc (µA/cm<tspan font-size="17.5" dy="-11.5">2</tspan><tspan font-size="23.5" dy="11.5">)</tspan></text>
<text x="997.10" y="469.70" font-size="25.20" fill="#000" textLength="287.61" lengthAdjust="spacingAndGlyphs">concentration ( log, µM)</text>
<rect x="800.50" y="589.20" width="644.80" height="445.30" fill="none" stroke="#000" stroke-width="1.70"/>
<text x="938.00" y="634.80" font-size="22.80" fill="#000" textLength="415.02" lengthAdjust="spacingAndGlyphs">uHTS159 dose-response on HBEC</text>
<text x="1014.70" y="663.80" font-size="22.80" fill="#000" textLength="257.59" lengthAdjust="spacingAndGlyphs">expressing WT CFTR</text>
<line x1="911.40" y1="670.10" x2="911.40" y2="982.10" stroke="#000" stroke-width="2.80"/>
<line x1="910.00" y1="929.30" x2="1374.50" y2="929.30" stroke="#000" stroke-width="2.80"/>
<line x1="897.90" y1="980.90" x2="911.40" y2="980.90" stroke="#000" stroke-width="2.60"/>
<text x="874.92" y="989.30" font-size="24.50" fill="#000" textLength="19.17" lengthAdjust="spacingAndGlyphs">-5</text>
<line x1="897.90" y1="929.30" x2="911.40" y2="929.30" stroke="#000" stroke-width="2.60"/>
<text x="882.09" y="937.70" font-size="24.50" fill="#000" textLength="11.99" lengthAdjust="spacingAndGlyphs">0</text>
<line x1="897.90" y1="877.70" x2="911.40" y2="877.70" stroke="#000" stroke-width="2.60"/>
<text x="882.09" y="886.10" font-size="24.50" fill="#000" textLength="11.99" lengthAdjust="spacingAndGlyphs">5</text>
<line x1="897.90" y1="826.10" x2="911.40" y2="826.10" stroke="#000" stroke-width="2.60"/>
<text x="870.12" y="834.50" font-size="24.50" fill="#000" textLength="23.98" lengthAdjust="spacingAndGlyphs">10</text>
<line x1="897.90" y1="774.50" x2="911.40" y2="774.50" stroke="#000" stroke-width="2.60"/>
<text x="870.12" y="782.90" font-size="24.50" fill="#000" textLength="23.98" lengthAdjust="spacingAndGlyphs">15</text>
<line x1="897.90" y1="722.90" x2="911.40" y2="722.90" stroke="#000" stroke-width="2.60"/>
<text x="870.12" y="731.30" font-size="24.50" fill="#000" textLength="23.98" lengthAdjust="spacingAndGlyphs">20</text>
<line x1="897.90" y1="671.30" x2="911.40" y2="671.30" stroke="#000" stroke-width="2.60"/>
<text x="870.12" y="679.70" font-size="24.50" fill="#000" textLength="23.98" lengthAdjust="spacingAndGlyphs">25</text>
<line x1="934.85" y1="929.30" x2="934.85" y2="936.80" stroke="#000" stroke-width="2.20"/>
<line x1="948.39" y1="929.30" x2="948.39" y2="936.80" stroke="#000" stroke-width="2.20"/>
<line x1="958.00" y1="929.30" x2="958.00" y2="936.80" stroke="#000" stroke-width="2.20"/>
<line x1="965.45" y1="929.30" x2="965.45" y2="936.80" stroke="#000" stroke-width="2.20"/>
<line x1="971.54" y1="929.30" x2="971.54" y2="936.80" stroke="#000" stroke-width="2.20"/>
<line x1="976.69" y1="929.30" x2="976.69" y2="936.80" stroke="#000" stroke-width="2.20"/>
<line x1="981.15" y1="929.30" x2="981.15" y2="936.80" stroke="#000" stroke-width="2.20"/>
<line x1="985.08" y1="929.30" x2="985.08" y2="936.80" stroke="#000" stroke-width="2.20"/>
<line x1="988.60" y1="929.30" x2="988.60" y2="942.30" stroke="#000" stroke-width="2.60"/>
<line x1="1011.75" y1="929.30" x2="1011.75" y2="936.80" stroke="#000" stroke-width="2.20"/>
<line x1="1025.29" y1="929.30" x2="1025.29" y2="936.80" stroke="#000" stroke-width="2.20"/>
<line x1="1034.90" y1="929.30" x2="1034.90" y2="936.80" stroke="#000" stroke-width="2.20"/>
<line x1="1042.35" y1="929.30" x2="1042.35" y2="936.80" stroke="#000" stroke-width="2.20"/>
<line x1="1048.44" y1="929.30" x2="1048.44" y2="936.80" stroke="#000" stroke-width="2.20"/>
<line x1="1053.59" y1="929.30" x2="1053.59" y2="936.80" stroke="#000" stroke-width="2.20"/>
<line x1="1058.05" y1="929.30" x2="1058.05" y2="936.80" stroke="#000" stroke-width="2.20"/>
<line x1="1061.98" y1="929.30" x2="1061.98" y2="936.80" stroke="#000" stroke-width="2.20"/>
<line x1="1065.50" y1="929.30" x2="1065.50" y2="942.30" stroke="#000" stroke-width="2.60"/>
<line x1="1088.65" y1="929.30" x2="1088.65" y2="936.80" stroke="#000" stroke-width="2.20"/>
<line x1="1102.19" y1="929.30" x2="1102.19" y2="936.80" stroke="#000" stroke-width="2.20"/>
<line x1="1111.80" y1="929.30" x2="1111.80" y2="936.80" stroke="#000" stroke-width="2.20"/>
<line x1="1119.25" y1="929.30" x2="1119.25" y2="936.80" stroke="#000" stroke-width="2.20"/>
<line x1="1125.34" y1="929.30" x2="1125.34" y2="936.80" stroke="#000" stroke-width="2.20"/>
<line x1="1130.49" y1="929.30" x2="1130.49" y2="936.80" stroke="#000" stroke-width="2.20"/>
<line x1="1134.95" y1="929.30" x2="1134.95" y2="936.80" stroke="#000" stroke-width="2.20"/>
<line x1="1138.88" y1="929.30" x2="1138.88" y2="936.80" stroke="#000" stroke-width="2.20"/>
<line x1="1142.40" y1="929.30" x2="1142.40" y2="942.30" stroke="#000" stroke-width="2.60"/>
<line x1="1165.55" y1="929.30" x2="1165.55" y2="936.80" stroke="#000" stroke-width="2.20"/>
<line x1="1179.09" y1="929.30" x2="1179.09" y2="936.80" stroke="#000" stroke-width="2.20"/>
<line x1="1188.70" y1="929.30" x2="1188.70" y2="936.80" stroke="#000" stroke-width="2.20"/>
<line x1="1196.15" y1="929.30" x2="1196.15" y2="936.80" stroke="#000" stroke-width="2.20"/>
<line x1="1202.24" y1="929.30" x2="1202.24" y2="936.80" stroke="#000" stroke-width="2.20"/>
<line x1="1207.39" y1="929.30" x2="1207.39" y2="936.80" stroke="#000" stroke-width="2.20"/>
<line x1="1211.85" y1="929.30" x2="1211.85" y2="936.80" stroke="#000" stroke-width="2.20"/>
<line x1="1215.78" y1="929.30" x2="1215.78" y2="936.80" stroke="#000" stroke-width="2.20"/>
<line x1="1219.30" y1="929.30" x2="1219.30" y2="942.30" stroke="#000" stroke-width="2.60"/>
<line x1="1242.45" y1="929.30" x2="1242.45" y2="936.80" stroke="#000" stroke-width="2.20"/>
<line x1="1255.99" y1="929.30" x2="1255.99" y2="936.80" stroke="#000" stroke-width="2.20"/>
<line x1="1265.60" y1="929.30" x2="1265.60" y2="936.80" stroke="#000" stroke-width="2.20"/>
<line x1="1273.05" y1="929.30" x2="1273.05" y2="936.80" stroke="#000" stroke-width="2.20"/>
<line x1="1279.14" y1="929.30" x2="1279.14" y2="936.80" stroke="#000" stroke-width="2.20"/>
<line x1="1284.29" y1="929.30" x2="1284.29" y2="936.80" stroke="#000" stroke-width="2.20"/>
<line x1="1288.75" y1="929.30" x2="1288.75" y2="936.80" stroke="#000" stroke-width="2.20"/>
<line x1="1292.68" y1="929.30" x2="1292.68" y2="936.80" stroke="#000" stroke-width="2.20"/>
<line x1="1296.20" y1="929.30" x2="1296.20" y2="942.30" stroke="#000" stroke-width="2.60"/>
<line x1="1319.35" y1="929.30" x2="1319.35" y2="936.80" stroke="#000" stroke-width="2.20"/>
<line x1="1332.89" y1="929.30" x2="1332.89" y2="936.80" stroke="#000" stroke-width="2.20"/>
<line x1="1342.50" y1="929.30" x2="1342.50" y2="936.80" stroke="#000" stroke-width="2.20"/>
<line x1="1349.95" y1="929.30" x2="1349.95" y2="936.80" stroke="#000" stroke-width="2.20"/>
<line x1="1356.04" y1="929.30" x2="1356.04" y2="936.80" stroke="#000" stroke-width="2.20"/>
<line x1="1361.19" y1="929.30" x2="1361.19" y2="936.80" stroke="#000" stroke-width="2.20"/>
<line x1="1365.65" y1="929.30" x2="1365.65" y2="936.80" stroke="#000" stroke-width="2.20"/>
<line x1="1369.58" y1="929.30" x2="1369.58" y2="936.80" stroke="#000" stroke-width="2.20"/>
<line x1="1373.10" y1="929.30" x2="1373.10" y2="942.30" stroke="#000" stroke-width="2.60"/>
<text x="958.65" y="970.10" font-size="23.70" fill="#000" textLength="54.11" lengthAdjust="spacingAndGlyphs">0.001</text>
<text x="1042.95" y="970.10" font-size="23.70" fill="#000" textLength="41.68" lengthAdjust="spacingAndGlyphs">0.01</text>
<text x="1125.70" y="970.10" font-size="23.70" fill="#000" textLength="29.60" lengthAdjust="spacingAndGlyphs">0.1</text>
<text x="1215.95" y="970.10" font-size="23.70" fill="#000" textLength="7.49" lengthAdjust="spacingAndGlyphs">1</text>
<text x="1285.45" y="970.10" font-size="23.70" fill="#000" textLength="22.31" lengthAdjust="spacingAndGlyphs">10</text>
<text x="1356.25" y="970.10" font-size="23.70" fill="#000" textLength="34.69" lengthAdjust="spacingAndGlyphs">100</text>
<path d="M988.6,929.3 L990.1,929.3 L991.7,929.3 L993.2,929.3 L994.8,929.3 L996.3,929.3 L997.8,929.3 L999.4,929.3 L1000.9,929.3 L1002.4,929.3 L1004.0,929.3 L1005.5,929.3 L1007.1,929.3 L1008.6,929.3 L1010.1,929.3 L1011.7,929.3 L1013.2,929.3 L1014.7,929.3 L1016.3,929.3 L1017.8,929.3 L1019.4,929.3 L1020.9,929.3 L1022.4,929.3 L1024.0,929.3 L1025.5,929.3 L1027.0,929.3 L1028.6,929.3 L1030.1,929.3 L1031.7,929.3 L1033.2,929.3 L1034.7,929.3 L1036.3,929.3 L1037.8,929.3 L1039.4,929.3 L1040.9,929.3 L1042.4,929.3 L1044.0,929.3 L1045.5,929.3 L1047.0,929.3 L1048.6,929.3 L1050.1,929.3 L1051.7,929.3 L1053.2,929.3 L1054.7,929.3 L1056.3,929.3 L1057.8,929.3 L1059.3,929.3 L1060.9,929.3 L1062.4,929.3 L1064.0,929.3 L1065.5,929.3 L1067.0,929.2 L1068.6,929.2 L1070.1,929.2 L1071.7,929.2 L1073.2,929.2 L1074.7,929.2 L1076.3,929.2 L1077.8,929.2 L1079.3,929.2 L1080.9,929.2 L1082.4,929.2 L1084.0,929.2 L1085.5,929.1 L1087.0,929.1 L1088.6,929.1 L1090.1,929.1 L1091.6,929.1 L1093.2,929.1 L1094.7,929.0 L1096.3,929.0 L1097.8,929.0 L1099.3,929.0 L1100.9,928.9 L1102.4,928.9 L1104.0,928.9 L1105.5,928.8 L1107.0,928.8 L1108.6,928.7 L1110.1,928.7 L1111.6,928.6 L1113.2,928.5 L1114.7,928.5 L1116.3,928.4 L1117.8,928.3 L1119.3,928.2 L1120.9,928.1 L1122.4,928.0 L1123.9,927.9 L1125.5,927.7 L1127.0,927.6 L1128.6,927.4 L1130.1,927.3 L1131.6,927.1 L1133.2,926.9 L1134.7,926.6 L1136.2,926.4 L1137.8,926.1 L1139.3,925.8 L1140.9,925.5 L1142.4,925.2 L1143.9,924.8 L1145.5,924.4 L1147.0,923.9 L1148.6,923.5 L1150.1,922.9 L1151.6,922.3 L1153.2,921.7 L1154.7,921.0 L1156.2,920.3 L1157.8,919.5 L1159.3,918.6 L1160.9,917.7 L1162.4,916.7 L1163.9,915.6 L1165.5,914.4 L1167.0,913.1 L1168.5,911.7 L1170.1,910.2 L1171.6,908.6 L1173.2,906.9 L1174.7,905.0 L1176.2,903.1 L1177.8,901.0 L1179.3,898.7 L1180.9,896.3 L1182.4,893.8 L1183.9,891.1 L1185.5,888.3 L1187.0,885.3 L1188.5,882.2 L1190.1,878.9 L1191.6,875.5 L1193.2,872.0 L1194.7,868.3 L1196.2,864.5 L1197.8,860.6 L1199.3,856.5 L1200.8,852.4 L1202.4,848.2 L1203.9,844.0 L1205.5,839.7 L1207.0,835.4 L1208.5,831.0 L1210.1,826.7 L1211.6,822.4 L1213.1,818.2 L1214.7,814.0 L1216.2,809.8 L1217.8,805.8 L1219.3,801.9 L1220.8,798.0 L1222.4,794.3 L1223.9,790.7 L1225.5,787.3 L1227.0,784.0 L1228.5,780.9 L1230.1,777.9 L1231.6,775.0 L1233.1,772.3 L1234.7,769.7 L1236.2,767.3 L1237.8,765.1 L1239.3,762.9 L1240.8,760.9 L1242.4,759.1 L1243.9,757.3 L1245.4,755.7 L1247.0,754.2 L1248.5,752.8 L1250.1,751.5 L1251.6,750.3 L1253.1,749.2 L1254.7,748.1 L1256.2,747.2 L1257.8,746.3 L1259.3,745.5 L1260.8,744.7 L1262.4,744.0 L1263.9,743.4 L1265.4,742.8 L1267.0,742.3 L1268.5,741.8 L1270.1,741.3 L1271.6,740.9 L1273.1,740.5 L1274.7,740.2 L1276.2,739.8 L1277.7,739.5 L1279.3,739.3 L1280.8,739.0 L1282.4,738.8 L1283.9,738.6 L1285.4,738.4 L1287.0,738.2 L1288.5,738.0 L1290.0,737.9 L1291.6,737.8 L1293.1,737.6 L1294.7,737.5 L1296.2,737.4 L1297.7,737.3 L1299.3,737.2 L1300.8,737.2 L1302.4,737.1 L1303.9,737.0 L1305.4,737.0 L1307.0,736.9 L1308.5,736.9 L1310.0,736.8 L1311.6,736.8 L1313.1,736.7 L1314.7,736.7 L1316.2,736.7 L1317.7,736.6 L1319.3,736.6 L1320.8,736.6 L1322.3,736.6 L1323.9,736.5 L1325.4,736.5 L1327.0,736.5 L1328.5,736.5 L1330.0,736.5 L1331.6,736.5" fill="none" stroke="#000" stroke-width="1.70" stroke-linejoin="round" stroke-linecap="butt"/>
<circle cx="988.60" cy="932.40" r="6.4" fill="#000"/>
<line x1="1065.50" y1="926.20" x2="1065.50" y2="939.10" stroke="#000" stroke-width="1.70"/>
<line x1="1059.70" y1="926.20" x2="1071.30" y2="926.20" stroke="#000" stroke-width="1.70"/>
<line x1="1059.70" y1="939.10" x2="1071.30" y2="939.10" stroke="#000" stroke-width="1.70"/>
<circle cx="1065.50" cy="932.40" r="6.4" fill="#000"/>
<line x1="1142.40" y1="908.66" x2="1142.40" y2="929.30" stroke="#000" stroke-width="1.70"/>
<line x1="1136.60" y1="908.66" x2="1148.20" y2="908.66" stroke="#000" stroke-width="1.70"/>
<line x1="1136.60" y1="929.30" x2="1148.20" y2="929.30" stroke="#000" stroke-width="1.70"/>
<circle cx="1142.40" cy="918.98" r="6.4" fill="#000"/>
<line x1="1196.15" y1="852.42" x2="1196.15" y2="875.64" stroke="#000" stroke-width="1.70"/>
<line x1="1190.35" y1="852.42" x2="1201.95" y2="852.42" stroke="#000" stroke-width="1.70"/>
<line x1="1190.35" y1="875.64" x2="1201.95" y2="875.64" stroke="#000" stroke-width="1.70"/>
<circle cx="1196.15" cy="864.59" r="6.4" fill="#000"/>
<line x1="1219.30" y1="760.57" x2="1219.30" y2="849.84" stroke="#000" stroke-width="1.70"/>
<line x1="1213.50" y1="760.57" x2="1225.10" y2="760.57" stroke="#000" stroke-width="1.70"/>
<line x1="1213.50" y1="849.84" x2="1225.10" y2="849.84" stroke="#000" stroke-width="1.70"/>
<circle cx="1219.30" cy="805.67" r="6.4" fill="#000"/>
<line x1="1255.99" y1="710.52" x2="1255.99" y2="767.28" stroke="#000" stroke-width="1.70"/>
<line x1="1250.19" y1="710.52" x2="1261.79" y2="710.52" stroke="#000" stroke-width="1.70"/>
<line x1="1250.19" y1="767.28" x2="1261.79" y2="767.28" stroke="#000" stroke-width="1.70"/>
<circle cx="1255.99" cy="738.90" r="6.4" fill="#000"/>
<line x1="1273.05" y1="719.80" x2="1273.05" y2="746.64" stroke="#000" stroke-width="1.70"/>
<line x1="1267.25" y1="719.80" x2="1278.85" y2="719.80" stroke="#000" stroke-width="1.70"/>
<line x1="1267.25" y1="746.64" x2="1278.85" y2="746.64" stroke="#000" stroke-width="1.70"/>
<circle cx="1273.05" cy="734.25" r="6.4" fill="#000"/>
<line x1="1296.20" y1="712.58" x2="1296.20" y2="746.64" stroke="#000" stroke-width="1.70"/>
<line x1="1290.40" y1="712.58" x2="1302.00" y2="712.58" stroke="#000" stroke-width="1.70"/>
<line x1="1290.40" y1="746.64" x2="1302.00" y2="746.64" stroke="#000" stroke-width="1.70"/>
<circle cx="1296.20" cy="730.12" r="6.4" fill="#000"/>
<line x1="1319.35" y1="711.55" x2="1319.35" y2="766.24" stroke="#000" stroke-width="1.70"/>
<line x1="1313.55" y1="711.55" x2="1325.15" y2="711.55" stroke="#000" stroke-width="1.70"/>
<line x1="1313.55" y1="766.24" x2="1325.15" y2="766.24" stroke="#000" stroke-width="1.70"/>
<circle cx="1319.35" cy="738.38" r="6.4" fill="#000"/>
<line x1="1332.89" y1="724.45" x2="1332.89" y2="786.88" stroke="#000" stroke-width="1.70"/>
<line x1="1327.09" y1="724.45" x2="1338.69" y2="724.45" stroke="#000" stroke-width="1.70"/>
<line x1="1327.09" y1="786.88" x2="1338.69" y2="786.88" stroke="#000" stroke-width="1.70"/>
<circle cx="1332.89" cy="756.96" r="6.4" fill="#000"/>
<text x="978.00" y="795.40" font-size="20.30" fill="#000" textLength="27.90" lengthAdjust="spacingAndGlyphs">EC</text>
<text x="1007.80" y="802.30" font-size="11.00" fill="#000" textLength="12.99" lengthAdjust="spacingAndGlyphs">50</text>
<text x="1022.00" y="795.40" font-size="20.30" fill="#000" textLength="101.88" lengthAdjust="spacingAndGlyphs">= 0.711µM</text>
<text transform="translate(852.8,908.4) rotate(-90)" x="0" y="0" font-size="23.5" textLength="165" lengthAdjust="spacingAndGlyphs">ΔIsc (µA/cm<tspan font-size="17.5" dy="-11.5">2</tspan><tspan font-size="23.5" dy="11.5">)</tspan></text>
<text x="998.70" y="1004.50" font-size="25.20" fill="#000" textLength="287.01" lengthAdjust="spacingAndGlyphs">concentration ( log, µM)</text>
</svg>
</body></html>
